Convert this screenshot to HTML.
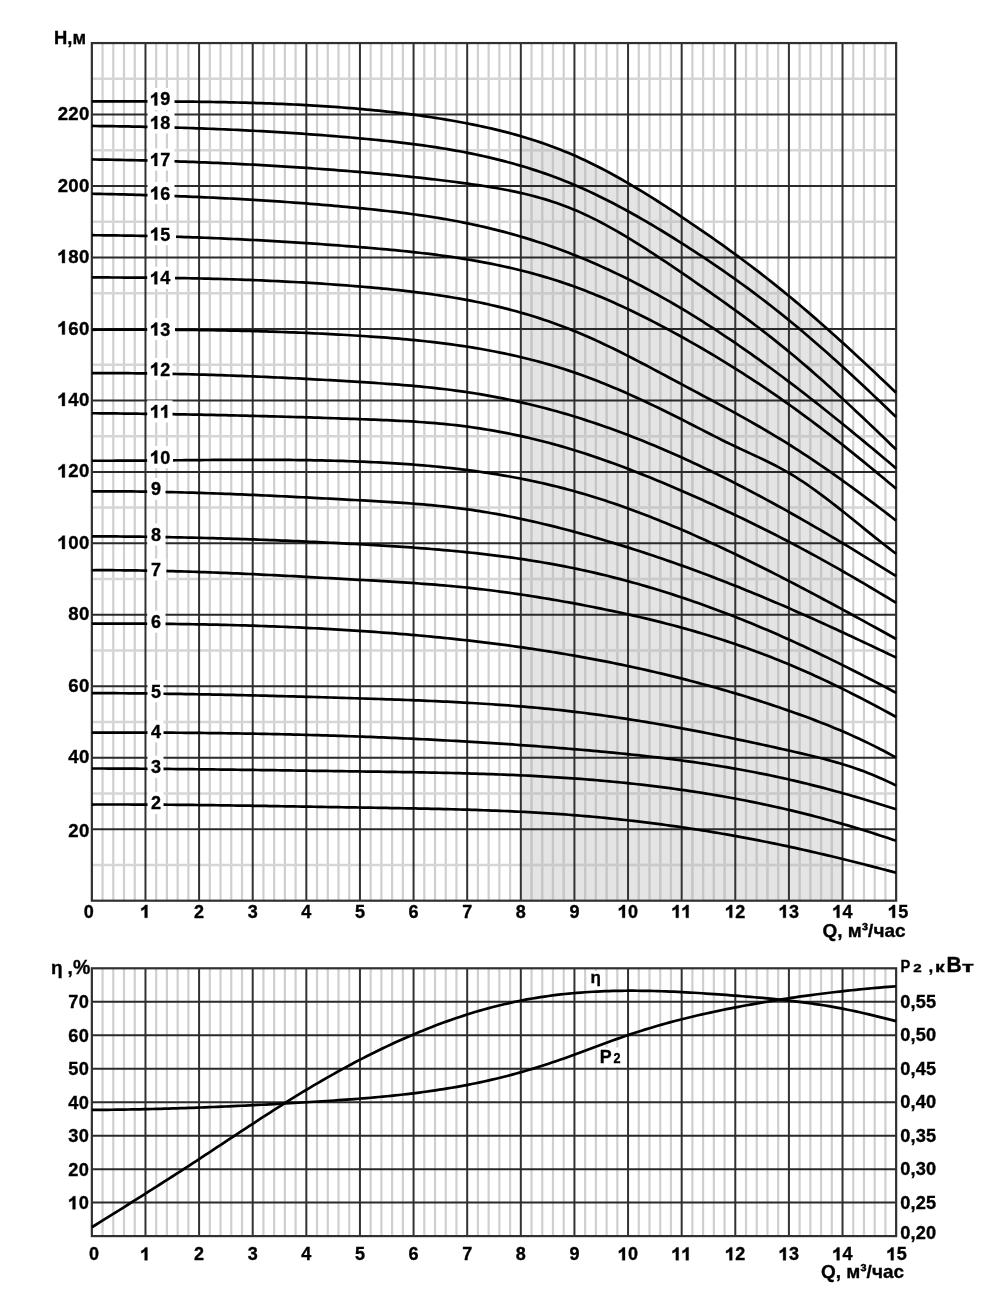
<!DOCTYPE html><html><head><meta charset="utf-8"><style>
html,body{margin:0;padding:0;background:#fff;width:1000px;height:1300px;overflow:hidden}
svg{display:block;filter:grayscale(1) blur(0.35px)}
text{font-family:"Liberation Sans",sans-serif;font-weight:bold;fill:#000;stroke:#000;stroke-width:0.35px}
</style></head><body>
<svg width="1000" height="1300" viewBox="0 0 1000 1300">
<defs><clipPath id="sh"><polygon points="520.81,900.70 520.81,136.18 524.88,137.38 528.95,138.62 533.03,139.90 537.10,141.23 541.17,142.59 545.24,144.00 549.32,145.46 553.39,146.96 557.46,148.51 561.53,150.11 565.61,151.76 569.68,153.45 573.75,155.21 577.82,157.01 581.90,158.87 585.97,160.78 590.04,162.73 594.11,164.74 598.19,166.79 602.26,168.89 606.33,171.03 610.40,173.22 614.48,175.45 618.55,177.71 622.62,180.02 626.69,182.36 630.76,184.74 634.84,187.15 638.91,189.60 642.98,192.08 647.05,194.58 651.13,197.12 655.20,199.68 659.27,202.27 663.34,204.89 667.42,207.52 671.49,210.18 675.56,212.86 679.63,215.56 683.71,218.27 687.78,221.00 691.85,223.75 695.92,226.52 700.00,229.31 704.07,232.12 708.14,234.94 712.21,237.79 716.29,240.66 720.36,243.55 724.43,246.46 728.50,249.39 732.58,252.35 736.65,255.33 740.72,258.34 744.79,261.37 748.86,264.43 752.94,267.51 757.01,270.62 761.08,273.76 765.15,276.92 769.23,280.12 773.30,283.34 777.37,286.59 781.44,289.88 785.52,293.19 789.59,296.54 793.66,299.91 797.73,303.32 801.81,306.76 805.88,310.23 809.95,313.72 814.02,317.25 818.10,320.80 822.17,324.37 826.24,327.97 830.31,331.60 834.39,335.24 838.46,338.91 842.53,342.61 842.53,900.70"/></clipPath></defs>
<polygon points="520.81,900.70 520.81,136.18 524.88,137.38 528.95,138.62 533.03,139.90 537.10,141.23 541.17,142.59 545.24,144.00 549.32,145.46 553.39,146.96 557.46,148.51 561.53,150.11 565.61,151.76 569.68,153.45 573.75,155.21 577.82,157.01 581.90,158.87 585.97,160.78 590.04,162.73 594.11,164.74 598.19,166.79 602.26,168.89 606.33,171.03 610.40,173.22 614.48,175.45 618.55,177.71 622.62,180.02 626.69,182.36 630.76,184.74 634.84,187.15 638.91,189.60 642.98,192.08 647.05,194.58 651.13,197.12 655.20,199.68 659.27,202.27 663.34,204.89 667.42,207.52 671.49,210.18 675.56,212.86 679.63,215.56 683.71,218.27 687.78,221.00 691.85,223.75 695.92,226.52 700.00,229.31 704.07,232.12 708.14,234.94 712.21,237.79 716.29,240.66 720.36,243.55 724.43,246.46 728.50,249.39 732.58,252.35 736.65,255.33 740.72,258.34 744.79,261.37 748.86,264.43 752.94,267.51 757.01,270.62 761.08,273.76 765.15,276.92 769.23,280.12 773.30,283.34 777.37,286.59 781.44,289.88 785.52,293.19 789.59,296.54 793.66,299.91 797.73,303.32 801.81,306.76 805.88,310.23 809.95,313.72 814.02,317.25 818.10,320.80 822.17,324.37 826.24,327.97 830.31,331.60 834.39,335.24 838.46,338.91 842.53,342.61 842.53,900.70" fill="#e4e4e4"/>
<path d="M102.57 43.06V900.70M113.30 43.06V900.70M124.02 43.06V900.70M134.75 43.06V900.70M156.19 43.06V900.70M166.92 43.06V900.70M177.64 43.06V900.70M188.37 43.06V900.70M209.81 43.06V900.70M220.54 43.06V900.70M231.26 43.06V900.70M241.99 43.06V900.70M263.43 43.06V900.70M274.16 43.06V900.70M284.88 43.06V900.70M295.61 43.06V900.70M317.05 43.06V900.70M327.78 43.06V900.70M338.50 43.06V900.70M349.23 43.06V900.70M370.67 43.06V900.70M381.40 43.06V900.70M392.12 43.06V900.70M402.85 43.06V900.70M424.29 43.06V900.70M435.02 43.06V900.70M445.74 43.06V900.70M456.47 43.06V900.70M477.91 43.06V900.70M488.64 43.06V900.70M499.36 43.06V900.70M510.09 43.06V900.70M531.53 43.06V900.70M542.26 43.06V900.70M552.98 43.06V900.70M563.71 43.06V900.70M585.15 43.06V900.70M595.88 43.06V900.70M606.60 43.06V900.70M617.33 43.06V900.70M638.77 43.06V900.70M649.50 43.06V900.70M660.22 43.06V900.70M670.95 43.06V900.70M692.39 43.06V900.70M703.12 43.06V900.70M713.84 43.06V900.70M724.57 43.06V900.70M746.01 43.06V900.70M756.74 43.06V900.70M767.46 43.06V900.70M778.19 43.06V900.70M799.63 43.06V900.70M810.36 43.06V900.70M821.08 43.06V900.70M831.81 43.06V900.70M853.25 43.06V900.70M863.98 43.06V900.70M874.70 43.06V900.70M885.43 43.06V900.70" stroke="#cfcfcf" stroke-width="2.2" fill="none"/>
<path d="M102.57 43.06V900.70M113.30 43.06V900.70M124.02 43.06V900.70M134.75 43.06V900.70M156.19 43.06V900.70M166.92 43.06V900.70M177.64 43.06V900.70M188.37 43.06V900.70M209.81 43.06V900.70M220.54 43.06V900.70M231.26 43.06V900.70M241.99 43.06V900.70M263.43 43.06V900.70M274.16 43.06V900.70M284.88 43.06V900.70M295.61 43.06V900.70M317.05 43.06V900.70M327.78 43.06V900.70M338.50 43.06V900.70M349.23 43.06V900.70M370.67 43.06V900.70M381.40 43.06V900.70M392.12 43.06V900.70M402.85 43.06V900.70M424.29 43.06V900.70M435.02 43.06V900.70M445.74 43.06V900.70M456.47 43.06V900.70M477.91 43.06V900.70M488.64 43.06V900.70M499.36 43.06V900.70M510.09 43.06V900.70M531.53 43.06V900.70M542.26 43.06V900.70M552.98 43.06V900.70M563.71 43.06V900.70M585.15 43.06V900.70M595.88 43.06V900.70M606.60 43.06V900.70M617.33 43.06V900.70M638.77 43.06V900.70M649.50 43.06V900.70M660.22 43.06V900.70M670.95 43.06V900.70M692.39 43.06V900.70M703.12 43.06V900.70M713.84 43.06V900.70M724.57 43.06V900.70M746.01 43.06V900.70M756.74 43.06V900.70M767.46 43.06V900.70M778.19 43.06V900.70M799.63 43.06V900.70M810.36 43.06V900.70M821.08 43.06V900.70M831.81 43.06V900.70M853.25 43.06V900.70M863.98 43.06V900.70M874.70 43.06V900.70M885.43 43.06V900.70" stroke="#c6c6c6" stroke-width="2.2" fill="none" clip-path="url(#sh)"/>
<path d="M91.85 864.97H896.15M91.85 793.50H896.15M91.85 722.03H896.15M91.85 650.56H896.15M91.85 579.09H896.15M91.85 507.62H896.15M91.85 436.15H896.15M91.85 364.68H896.15M91.85 293.21H896.15M91.85 221.74H896.15M91.85 150.26H896.15M91.85 78.80H896.15" stroke="#d6d6d6" stroke-width="2.5" fill="none"/>
<path d="M91.85 864.97H896.15M91.85 793.50H896.15M91.85 722.03H896.15M91.85 650.56H896.15M91.85 579.09H896.15M91.85 507.62H896.15M91.85 436.15H896.15M91.85 364.68H896.15M91.85 293.21H896.15M91.85 221.74H896.15M91.85 150.26H896.15M91.85 78.80H896.15" stroke="#cacaca" stroke-width="2.5" fill="none" clip-path="url(#sh)"/>
<path d="M145.47 43.06V900.70M199.09 43.06V900.70M252.71 43.06V900.70M306.33 43.06V900.70M359.95 43.06V900.70M413.57 43.06V900.70M467.19 43.06V900.70M520.81 43.06V900.70M574.43 43.06V900.70M628.05 43.06V900.70M681.67 43.06V900.70M735.29 43.06V900.70M788.91 43.06V900.70M842.53 43.06V900.70" stroke="#333333" stroke-width="2.0" fill="none"/>
<path d="M91.85 829.23H896.15M91.85 757.76H896.15M91.85 686.29H896.15M91.85 614.82H896.15M91.85 543.35H896.15M91.85 471.88H896.15M91.85 400.41H896.15M91.85 328.94H896.15M91.85 257.47H896.15M91.85 186.00H896.15M91.85 114.53H896.15" stroke="#2a2a2a" stroke-width="2.0" fill="none"/>
<rect x="91.85" y="43.06" width="804.30" height="857.64" fill="none" stroke="#303030" stroke-width="2.2"/>
<polyline points="91.85,101.30 95.89,101.30 99.93,101.30 103.98,101.31 108.02,101.31 112.06,101.32 116.10,101.32 120.14,101.32 124.18,101.33 128.23,101.34 132.27,101.34 136.31,101.35 140.35,101.36 144.39,101.38 148.43,101.39 152.48,101.40 156.52,101.42 160.56,101.44 164.60,101.46 168.64,101.49 172.68,101.52 176.73,101.55 180.77,101.58 184.81,101.62 188.85,101.66 192.89,101.70 196.93,101.75 200.98,101.80 205.02,101.86 209.06,101.92 213.10,101.99 217.14,102.06 221.18,102.13 225.23,102.21 229.27,102.30 233.31,102.39 237.35,102.48 241.39,102.59 245.43,102.69 249.48,102.81 253.52,102.93 257.56,103.05 261.60,103.19 265.64,103.33 269.69,103.47 273.73,103.63 277.77,103.79 281.81,103.96 285.85,104.13 289.89,104.32 293.94,104.51 297.98,104.71 302.02,104.92 306.06,105.14 310.10,105.36 314.14,105.60 318.19,105.84 322.23,106.10 326.27,106.36 330.31,106.63 334.35,106.91 338.39,107.20 342.44,107.50 346.48,107.82 350.52,108.14 354.56,108.47 358.60,108.82 362.64,109.17 366.69,109.54 370.73,109.91 374.77,110.30 378.81,110.71 382.85,111.12 386.89,111.55 390.94,111.99 394.98,112.45 399.02,112.92 403.06,113.40 407.10,113.90 411.14,114.42 415.19,114.95 419.23,115.50 423.27,116.06 427.31,116.65 431.35,117.25 435.40,117.87 439.44,118.50 443.48,119.16 447.52,119.83 451.56,120.53 455.60,121.24 459.65,121.98 463.69,122.73 467.73,123.51 471.77,124.31 475.81,125.13 479.85,125.98 483.90,126.85 487.94,127.74 491.98,128.67 496.02,129.62 500.06,130.61 504.10,131.62 508.15,132.67 512.19,133.75 516.23,134.87 520.27,136.02 524.31,137.21 528.35,138.44 532.40,139.70 536.44,141.01 540.48,142.36 544.52,143.75 548.56,145.19 552.60,146.67 556.65,148.20 560.69,149.77 564.73,151.40 568.77,153.07 572.81,154.80 576.86,156.58 580.90,158.41 584.94,160.29 588.98,162.22 593.02,164.20 597.06,166.22 601.11,168.29 605.15,170.41 609.19,172.56 613.23,174.76 617.27,177.00 621.31,179.28 625.36,181.59 629.40,183.94 633.44,186.32 637.48,188.74 641.52,191.19 645.56,193.66 649.61,196.17 653.65,198.70 657.69,201.26 661.73,203.85 665.77,206.46 669.81,209.09 673.86,211.74 677.90,214.40 681.94,217.09 685.98,219.80 690.02,222.52 694.06,225.26 698.11,228.01 702.15,230.79 706.19,233.59 710.23,236.40 714.27,239.24 718.31,242.09 722.36,244.97 726.40,247.87 730.44,250.80 734.48,253.74 738.52,256.71 742.57,259.71 746.61,262.73 750.65,265.77 754.69,268.84 758.73,271.94 762.77,275.07 766.82,278.22 770.86,281.40 774.90,284.61 778.94,287.85 782.98,291.12 787.02,294.43 791.07,297.76 795.11,301.12 799.15,304.51 803.19,307.94 807.23,311.39 811.27,314.86 815.32,318.37 819.36,321.90 823.40,325.46 827.44,329.04 831.48,332.64 835.52,336.27 839.57,339.92 843.61,343.59 847.65,347.28 851.69,350.99 855.73,354.71 859.77,358.46 863.82,362.22 867.86,366.00 871.90,369.79 875.94,373.60 879.98,377.42 884.02,381.25 888.07,385.09 892.11,388.95 896.15,392.82" fill="none" stroke="#000" stroke-width="2.7" stroke-linejoin="round"/>
<polyline points="91.85,125.96 95.89,126.00 99.93,126.04 103.98,126.09 108.02,126.15 112.06,126.20 116.10,126.26 120.14,126.33 124.18,126.39 128.23,126.46 132.27,126.54 136.31,126.62 140.35,126.70 144.39,126.78 148.43,126.87 152.48,126.97 156.52,127.07 160.56,127.17 164.60,127.27 168.64,127.39 172.68,127.50 176.73,127.62 180.77,127.74 184.81,127.87 188.85,128.00 192.89,128.14 196.93,128.28 200.98,128.43 205.02,128.58 209.06,128.73 213.10,128.89 217.14,129.06 221.18,129.23 225.23,129.40 229.27,129.58 233.31,129.77 237.35,129.96 241.39,130.15 245.43,130.35 249.48,130.56 253.52,130.77 257.56,130.98 261.60,131.20 265.64,131.43 269.69,131.66 273.73,131.90 277.77,132.14 281.81,132.39 285.85,132.65 289.89,132.91 293.94,133.17 297.98,133.44 302.02,133.72 306.06,134.00 310.10,134.29 314.14,134.59 318.19,134.89 322.23,135.20 326.27,135.51 330.31,135.83 334.35,136.16 338.39,136.49 342.44,136.83 346.48,137.17 350.52,137.52 354.56,137.88 358.60,138.25 362.64,138.62 366.69,139.00 370.73,139.38 374.77,139.78 378.81,140.18 382.85,140.60 386.89,141.02 390.94,141.46 394.98,141.90 399.02,142.36 403.06,142.84 407.10,143.33 411.14,143.83 415.19,144.35 419.23,144.88 423.27,145.44 427.31,146.01 431.35,146.59 435.40,147.20 439.44,147.83 443.48,148.47 447.52,149.14 451.56,149.83 455.60,150.55 459.65,151.28 463.69,152.04 467.73,152.83 471.77,153.64 475.81,154.48 479.85,155.34 483.90,156.23 487.94,157.15 491.98,158.10 496.02,159.08 500.06,160.09 504.10,161.13 508.15,162.20 512.19,163.30 516.23,164.44 520.27,165.61 524.31,166.82 528.35,168.06 532.40,169.34 536.44,170.65 540.48,172.00 544.52,173.39 548.56,174.82 552.60,176.29 556.65,177.80 560.69,179.35 564.73,180.94 568.77,182.58 572.81,184.25 576.86,185.97 580.90,187.74 584.94,189.54 588.98,191.39 593.02,193.28 597.06,195.21 601.11,197.18 605.15,199.19 609.19,201.23 613.23,203.31 617.27,205.43 621.31,207.58 625.36,209.76 629.40,211.98 633.44,214.23 637.48,216.51 641.52,218.82 645.56,221.15 649.61,223.52 653.65,225.91 657.69,228.34 661.73,230.78 665.77,233.25 669.81,235.75 673.86,238.27 677.90,240.80 681.94,243.37 685.98,245.95 690.02,248.55 694.06,251.17 698.11,253.82 702.15,256.48 706.19,259.17 710.23,261.89 714.27,264.62 718.31,267.39 722.36,270.17 726.40,272.99 730.44,275.83 734.48,278.69 738.52,281.59 742.57,284.51 746.61,287.46 750.65,290.44 754.69,293.45 758.73,296.48 762.77,299.55 766.82,302.65 770.86,305.78 774.90,308.95 778.94,312.14 782.98,315.37 787.02,318.64 791.07,321.94 795.11,325.27 799.15,328.63 803.19,332.03 807.23,335.46 811.27,338.92 815.32,342.41 819.36,345.93 823.40,349.48 827.44,353.05 831.48,356.65 835.52,360.27 839.57,363.92 843.61,367.60 847.65,371.29 851.69,375.01 855.73,378.75 859.77,382.50 863.82,386.28 867.86,390.08 871.90,393.89 875.94,397.72 879.98,401.56 884.02,405.42 888.07,409.29 892.11,413.18 896.15,417.07" fill="none" stroke="#000" stroke-width="2.7" stroke-linejoin="round"/>
<polyline points="91.85,159.46 95.89,159.51 99.93,159.57 103.98,159.63 108.02,159.69 112.06,159.76 116.10,159.83 120.14,159.91 124.18,159.99 128.23,160.08 132.27,160.16 136.31,160.26 140.35,160.35 144.39,160.45 148.43,160.56 152.48,160.66 156.52,160.78 160.56,160.89 164.60,161.01 168.64,161.14 172.68,161.26 176.73,161.40 180.77,161.53 184.81,161.67 188.85,161.82 192.89,161.97 196.93,162.12 200.98,162.28 205.02,162.44 209.06,162.61 213.10,162.78 217.14,162.95 221.18,163.13 225.23,163.31 229.27,163.50 233.31,163.69 237.35,163.89 241.39,164.09 245.43,164.29 249.48,164.50 253.52,164.72 257.56,164.94 261.60,165.16 265.64,165.39 269.69,165.62 273.73,165.86 277.77,166.10 281.81,166.34 285.85,166.59 289.89,166.85 293.94,167.11 297.98,167.37 302.02,167.64 306.06,167.92 310.10,168.19 314.14,168.48 318.19,168.76 322.23,169.06 326.27,169.35 330.31,169.66 334.35,169.96 338.39,170.28 342.44,170.59 346.48,170.91 350.52,171.24 354.56,171.57 358.60,171.91 362.64,172.25 366.69,172.60 370.73,172.95 374.77,173.31 378.81,173.67 382.85,174.04 386.89,174.41 390.94,174.80 394.98,175.19 399.02,175.58 403.06,175.99 407.10,176.40 411.14,176.82 415.19,177.24 419.23,177.68 423.27,178.12 427.31,178.58 431.35,179.04 435.40,179.51 439.44,179.99 443.48,180.49 447.52,180.99 451.56,181.50 455.60,182.02 459.65,182.56 463.69,183.10 467.73,183.66 471.77,184.22 475.81,184.81 479.85,185.41 483.90,186.02 487.94,186.66 491.98,187.33 496.02,188.02 500.06,188.73 504.10,189.48 508.15,190.26 512.19,191.08 516.23,191.93 520.27,192.83 524.31,193.76 528.35,194.74 532.40,195.77 536.44,196.85 540.48,197.98 544.52,199.16 548.56,200.40 552.60,201.70 556.65,203.06 560.69,204.48 564.73,205.97 568.77,207.52 572.81,209.15 576.86,210.85 580.90,212.62 584.94,214.46 588.98,216.37 593.02,218.34 597.06,220.37 601.11,222.47 605.15,224.62 609.19,226.82 613.23,229.08 617.27,231.39 621.31,233.74 625.36,236.14 629.40,238.58 633.44,241.05 637.48,243.57 641.52,246.12 645.56,248.70 649.61,251.31 653.65,253.95 657.69,256.61 661.73,259.29 665.77,261.99 669.81,264.71 673.86,267.44 677.90,270.18 681.94,272.94 685.98,275.70 690.02,278.46 694.06,281.24 698.11,284.02 702.15,286.82 706.19,289.63 710.23,292.45 714.27,295.29 718.31,298.14 722.36,301.01 726.40,303.90 730.44,306.81 734.48,309.74 738.52,312.68 742.57,315.65 746.61,318.65 750.65,321.67 754.69,324.71 758.73,327.78 762.77,330.88 766.82,334.01 770.86,337.17 774.90,340.36 778.94,343.59 782.98,346.85 787.02,350.14 791.07,353.47 795.11,356.83 799.15,360.23 803.19,363.66 807.23,367.13 811.27,370.63 815.32,374.16 819.36,377.72 823.40,381.30 827.44,384.92 831.48,388.56 835.52,392.23 839.57,395.92 843.61,399.63 847.65,403.37 851.69,407.13 855.73,410.91 859.77,414.71 863.82,418.52 867.86,422.36 871.90,426.21 875.94,430.07 879.98,433.95 884.02,437.84 888.07,441.75 892.11,445.66 896.15,449.59" fill="none" stroke="#000" stroke-width="2.7" stroke-linejoin="round"/>
<polyline points="91.85,193.74 95.89,193.82 99.93,193.90 103.98,193.99 108.02,194.08 112.06,194.17 116.10,194.27 120.14,194.36 124.18,194.47 128.23,194.57 132.27,194.68 136.31,194.79 140.35,194.91 144.39,195.03 148.43,195.15 152.48,195.28 156.52,195.41 160.56,195.55 164.60,195.69 168.64,195.83 172.68,195.98 176.73,196.13 180.77,196.29 184.81,196.45 188.85,196.61 192.89,196.78 196.93,196.95 200.98,197.13 205.02,197.31 209.06,197.50 213.10,197.69 217.14,197.89 221.18,198.09 225.23,198.29 229.27,198.50 233.31,198.72 237.35,198.94 241.39,199.16 245.43,199.39 249.48,199.63 253.52,199.87 257.56,200.11 261.60,200.36 265.64,200.62 269.69,200.88 273.73,201.14 277.77,201.42 281.81,201.69 285.85,201.98 289.89,202.26 293.94,202.56 297.98,202.86 302.02,203.16 306.06,203.47 310.10,203.79 314.14,204.11 318.19,204.44 322.23,204.78 326.27,205.12 330.31,205.46 334.35,205.81 338.39,206.17 342.44,206.54 346.48,206.91 350.52,207.29 354.56,207.67 358.60,208.06 362.64,208.46 366.69,208.86 370.73,209.28 374.77,209.70 378.81,210.13 382.85,210.56 386.89,211.01 390.94,211.48 394.98,211.95 399.02,212.44 403.06,212.94 407.10,213.45 411.14,213.98 415.19,214.52 419.23,215.09 423.27,215.66 427.31,216.26 431.35,216.88 435.40,217.51 439.44,218.16 443.48,218.84 447.52,219.54 451.56,220.26 455.60,221.00 459.65,221.77 463.69,222.56 467.73,223.37 471.77,224.21 475.81,225.08 479.85,225.98 483.90,226.90 487.94,227.85 491.98,228.82 496.02,229.82 500.06,230.85 504.10,231.91 508.15,233.00 512.19,234.11 516.23,235.26 520.27,236.43 524.31,237.63 528.35,238.86 532.40,240.13 536.44,241.42 540.48,242.74 544.52,244.09 548.56,245.47 552.60,246.89 556.65,248.33 560.69,249.81 564.73,251.32 568.77,252.86 572.81,254.43 576.86,256.04 580.90,257.68 584.94,259.35 588.98,261.05 593.02,262.79 597.06,264.56 601.11,266.36 605.15,268.19 609.19,270.05 613.23,271.94 617.27,273.87 621.31,275.82 625.36,277.81 629.40,279.83 633.44,281.88 637.48,283.96 641.52,286.06 645.56,288.20 649.61,290.37 653.65,292.57 657.69,294.80 661.73,297.06 665.77,299.34 669.81,301.66 673.86,304.00 677.90,306.38 681.94,308.78 685.98,311.21 690.02,313.67 694.06,316.16 698.11,318.67 702.15,321.21 706.19,323.78 710.23,326.37 714.27,328.99 718.31,331.64 722.36,334.31 726.40,337.01 730.44,339.74 734.48,342.48 738.52,345.25 742.57,348.05 746.61,350.87 750.65,353.71 754.69,356.58 758.73,359.47 762.77,362.38 766.82,365.31 770.86,368.27 774.90,371.25 778.94,374.25 782.98,377.26 787.02,380.30 791.07,383.36 795.11,386.44 799.15,389.54 803.19,392.66 807.23,395.80 811.27,398.95 815.32,402.12 819.36,405.31 823.40,408.51 827.44,411.73 831.48,414.97 835.52,418.22 839.57,421.48 843.61,424.76 847.65,428.05 851.69,431.36 855.73,434.67 859.77,438.00 863.82,441.34 867.86,444.68 871.90,448.04 875.94,451.41 879.98,454.79 884.02,458.17 888.07,461.57 892.11,464.97 896.15,468.38" fill="none" stroke="#000" stroke-width="2.7" stroke-linejoin="round"/>
<polyline points="91.85,235.20 95.89,235.23 99.93,235.26 103.98,235.30 108.02,235.34 112.06,235.38 116.10,235.43 120.14,235.49 124.18,235.55 128.23,235.62 132.27,235.69 136.31,235.76 140.35,235.84 144.39,235.93 148.43,236.02 152.48,236.11 156.52,236.21 160.56,236.31 164.60,236.42 168.64,236.53 172.68,236.65 176.73,236.77 180.77,236.90 184.81,237.03 188.85,237.17 192.89,237.31 196.93,237.46 200.98,237.61 205.02,237.76 209.06,237.92 213.10,238.09 217.14,238.26 221.18,238.43 225.23,238.61 229.27,238.79 233.31,238.98 237.35,239.17 241.39,239.37 245.43,239.57 249.48,239.78 253.52,239.99 257.56,240.20 261.60,240.42 265.64,240.64 269.69,240.87 273.73,241.11 277.77,241.34 281.81,241.58 285.85,241.83 289.89,242.08 293.94,242.34 297.98,242.60 302.02,242.86 306.06,243.13 310.10,243.40 314.14,243.68 318.19,243.96 322.23,244.25 326.27,244.54 330.31,244.83 334.35,245.13 338.39,245.44 342.44,245.74 346.48,246.06 350.52,246.37 354.56,246.69 358.60,247.02 362.64,247.35 366.69,247.68 370.73,248.02 374.77,248.37 378.81,248.72 382.85,249.08 386.89,249.45 390.94,249.82 394.98,250.21 399.02,250.60 403.06,251.01 407.10,251.43 411.14,251.86 415.19,252.30 419.23,252.75 423.27,253.22 427.31,253.70 431.35,254.20 435.40,254.71 439.44,255.24 443.48,255.79 447.52,256.35 451.56,256.93 455.60,257.53 459.65,258.15 463.69,258.80 467.73,259.46 471.77,260.14 475.81,260.84 479.85,261.57 483.90,262.32 487.94,263.10 491.98,263.90 496.02,264.72 500.06,265.57 504.10,266.45 508.15,267.36 512.19,268.29 516.23,269.25 520.27,270.24 524.31,271.26 528.35,272.31 532.40,273.39 536.44,274.51 540.48,275.65 544.52,276.83 548.56,278.04 552.60,279.29 556.65,280.57 560.69,281.89 564.73,283.24 568.77,284.63 572.81,286.06 576.86,287.53 580.90,289.03 584.94,290.57 588.98,292.15 593.02,293.77 597.06,295.42 601.11,297.10 605.15,298.82 609.19,300.57 613.23,302.35 617.27,304.17 621.31,306.02 625.36,307.90 629.40,309.80 633.44,311.74 637.48,313.71 641.52,315.70 645.56,317.72 649.61,319.77 653.65,321.84 657.69,323.94 661.73,326.07 665.77,328.21 669.81,330.38 673.86,332.58 677.90,334.79 681.94,337.03 685.98,339.29 690.02,341.56 694.06,343.86 698.11,346.18 702.15,348.53 706.19,350.89 710.23,353.28 714.27,355.68 718.31,358.12 722.36,360.57 726.40,363.05 730.44,365.55 734.48,368.07 738.52,370.62 742.57,373.19 746.61,375.79 750.65,378.41 754.69,381.05 758.73,383.72 762.77,386.42 766.82,389.14 770.86,391.88 774.90,394.66 778.94,397.45 782.98,400.28 787.02,403.13 791.07,406.01 795.11,408.91 799.15,411.85 803.19,414.80 807.23,417.79 811.27,420.79 815.32,423.82 819.36,426.88 823.40,429.96 827.44,433.06 831.48,436.18 835.52,439.33 839.57,442.49 843.61,445.68 847.65,448.89 851.69,452.11 855.73,455.36 859.77,458.62 863.82,461.90 867.86,465.20 871.90,468.52 875.94,471.85 879.98,475.20 884.02,478.57 888.07,481.95 892.11,485.34 896.15,488.75" fill="none" stroke="#000" stroke-width="2.7" stroke-linejoin="round"/>
<polyline points="91.85,277.44 95.89,277.44 99.93,277.45 103.98,277.46 108.02,277.47 112.06,277.49 116.10,277.50 120.14,277.52 124.18,277.54 128.23,277.56 132.27,277.58 136.31,277.61 140.35,277.64 144.39,277.67 148.43,277.70 152.48,277.74 156.52,277.78 160.56,277.82 164.60,277.87 168.64,277.92 172.68,277.98 176.73,278.04 180.77,278.10 184.81,278.17 188.85,278.25 192.89,278.32 196.93,278.41 200.98,278.49 205.02,278.58 209.06,278.68 213.10,278.78 217.14,278.89 221.18,279.01 225.23,279.12 229.27,279.25 233.31,279.38 237.35,279.51 241.39,279.65 245.43,279.80 249.48,279.95 253.52,280.11 257.56,280.27 261.60,280.44 265.64,280.61 269.69,280.79 273.73,280.98 277.77,281.17 281.81,281.37 285.85,281.58 289.89,281.79 293.94,282.01 297.98,282.23 302.02,282.46 306.06,282.70 310.10,282.95 314.14,283.20 318.19,283.45 322.23,283.72 326.27,283.99 330.31,284.27 334.35,284.55 338.39,284.85 342.44,285.14 346.48,285.45 350.52,285.76 354.56,286.09 358.60,286.41 362.64,286.75 366.69,287.09 370.73,287.44 374.77,287.80 378.81,288.18 382.85,288.56 386.89,288.95 390.94,289.35 394.98,289.77 399.02,290.20 403.06,290.64 407.10,291.10 411.14,291.57 415.19,292.06 419.23,292.57 423.27,293.09 427.31,293.63 431.35,294.19 435.40,294.77 439.44,295.36 443.48,295.98 447.52,296.62 451.56,297.28 455.60,297.96 459.65,298.66 463.69,299.39 467.73,300.14 471.77,300.92 475.81,301.73 479.85,302.55 483.90,303.41 487.94,304.29 491.98,305.21 496.02,306.15 500.06,307.12 504.10,308.12 508.15,309.15 512.19,310.21 516.23,311.31 520.27,312.44 524.31,313.60 528.35,314.79 532.40,316.02 536.44,317.29 540.48,318.59 544.52,319.93 548.56,321.30 552.60,322.72 556.65,324.17 560.69,325.66 564.73,327.19 568.77,328.76 572.81,330.38 576.86,332.03 580.90,333.73 584.94,335.47 588.98,337.24 593.02,339.05 597.06,340.89 601.11,342.77 605.15,344.68 609.19,346.61 613.23,348.58 617.27,350.56 621.31,352.58 625.36,354.61 629.40,356.67 633.44,358.74 637.48,360.83 641.52,362.94 645.56,365.05 649.61,367.18 653.65,369.32 657.69,371.47 661.73,373.62 665.77,375.78 669.81,377.94 673.86,380.11 677.90,382.27 681.94,384.43 685.98,386.58 690.02,388.74 694.06,390.89 698.11,393.04 702.15,395.19 706.19,397.35 710.23,399.51 714.27,401.68 718.31,403.85 722.36,406.03 726.40,408.23 730.44,410.43 734.48,412.64 738.52,414.87 742.57,417.12 746.61,419.38 750.65,421.66 754.69,423.96 758.73,426.28 762.77,428.62 766.82,430.98 770.86,433.37 774.90,435.79 778.94,438.23 782.98,440.71 787.02,443.21 791.07,445.75 795.11,448.32 799.15,450.91 803.19,453.54 807.23,456.20 811.27,458.89 815.32,461.61 819.36,464.35 823.40,467.12 827.44,469.91 831.48,472.73 835.52,475.58 839.57,478.45 843.61,481.34 847.65,484.25 851.69,487.18 855.73,490.13 859.77,493.11 863.82,496.10 867.86,499.11 871.90,502.13 875.94,505.17 879.98,508.23 884.02,511.30 888.07,514.39 892.11,517.49 896.15,520.60" fill="none" stroke="#000" stroke-width="2.7" stroke-linejoin="round"/>
<polyline points="91.85,329.80 95.89,329.77 99.93,329.75 103.98,329.73 108.02,329.71 112.06,329.69 116.10,329.68 120.14,329.67 124.18,329.66 128.23,329.65 132.27,329.65 136.31,329.65 140.35,329.65 144.39,329.66 148.43,329.66 152.48,329.67 156.52,329.69 160.56,329.70 164.60,329.72 168.64,329.75 172.68,329.77 176.73,329.80 180.77,329.83 184.81,329.87 188.85,329.91 192.89,329.96 196.93,330.00 200.98,330.05 205.02,330.11 209.06,330.17 213.10,330.23 217.14,330.30 221.18,330.37 225.23,330.45 229.27,330.53 233.31,330.61 237.35,330.70 241.39,330.79 245.43,330.89 249.48,330.99 253.52,331.10 257.56,331.21 261.60,331.33 265.64,331.45 269.69,331.57 273.73,331.71 277.77,331.84 281.81,331.98 285.85,332.13 289.89,332.28 293.94,332.44 297.98,332.60 302.02,332.77 306.06,332.95 310.10,333.13 314.14,333.31 318.19,333.50 322.23,333.70 326.27,333.90 330.31,334.11 334.35,334.32 338.39,334.55 342.44,334.77 346.48,335.01 350.52,335.25 354.56,335.49 358.60,335.74 362.64,336.00 366.69,336.27 370.73,336.54 374.77,336.82 378.81,337.12 382.85,337.41 386.89,337.72 390.94,338.04 394.98,338.37 399.02,338.71 403.06,339.07 407.10,339.43 411.14,339.81 415.19,340.20 419.23,340.61 423.27,341.03 427.31,341.47 431.35,341.92 435.40,342.39 439.44,342.87 443.48,343.38 447.52,343.90 451.56,344.44 455.60,345.00 459.65,345.57 463.69,346.17 467.73,346.79 471.77,347.43 475.81,348.09 479.85,348.78 483.90,349.49 487.94,350.22 491.98,350.97 496.02,351.75 500.06,352.56 504.10,353.39 508.15,354.25 512.19,355.13 516.23,356.04 520.27,356.98 524.31,357.95 528.35,358.95 532.40,359.98 536.44,361.03 540.48,362.12 544.52,363.24 548.56,364.39 552.60,365.58 556.65,366.79 560.69,368.04 564.73,369.33 568.77,370.65 572.81,372.00 576.86,373.39 580.90,374.82 584.94,376.28 588.98,377.77 593.02,379.30 597.06,380.86 601.11,382.45 605.15,384.07 609.19,385.72 613.23,387.40 617.27,389.11 621.31,390.84 625.36,392.60 629.40,394.39 633.44,396.20 637.48,398.04 641.52,399.89 645.56,401.78 649.61,403.68 653.65,405.60 657.69,407.54 661.73,409.50 665.77,411.48 669.81,413.48 673.86,415.50 677.90,417.52 681.94,419.57 685.98,421.63 690.02,423.69 694.06,425.77 698.11,427.85 702.15,429.92 706.19,432.00 710.23,434.06 714.27,436.11 718.31,438.15 722.36,440.17 726.40,442.17 730.44,444.14 734.48,446.08 738.52,447.99 742.57,449.88 746.61,451.75 750.65,453.61 754.69,455.48 758.73,457.37 762.77,459.28 766.82,461.22 770.86,463.22 774.90,465.27 778.94,467.38 782.98,469.58 787.02,471.86 791.07,474.23 795.11,476.71 799.15,479.28 803.19,481.94 807.23,484.68 811.27,487.50 815.32,490.38 819.36,493.33 823.40,496.34 827.44,499.40 831.48,502.51 835.52,505.66 839.57,508.84 843.61,512.05 847.65,515.29 851.69,518.54 855.73,521.80 859.77,525.07 863.82,528.34 867.86,531.60 871.90,534.85 875.94,538.09 879.98,541.30 884.02,544.48 888.07,547.62 892.11,550.72 896.15,553.78" fill="none" stroke="#000" stroke-width="2.7" stroke-linejoin="round"/>
<polyline points="91.85,373.06 95.89,373.06 99.93,373.06 103.98,373.07 108.02,373.08 112.06,373.10 116.10,373.12 120.14,373.14 124.18,373.17 128.23,373.21 132.27,373.25 136.31,373.29 140.35,373.34 144.39,373.40 148.43,373.45 152.48,373.51 156.52,373.58 160.56,373.65 164.60,373.73 168.64,373.81 172.68,373.89 176.73,373.98 180.77,374.07 184.81,374.17 188.85,374.27 192.89,374.37 196.93,374.48 200.98,374.59 205.02,374.71 209.06,374.83 213.10,374.96 217.14,375.09 221.18,375.22 225.23,375.36 229.27,375.50 233.31,375.64 237.35,375.79 241.39,375.94 245.43,376.10 249.48,376.26 253.52,376.42 257.56,376.59 261.60,376.76 265.64,376.94 269.69,377.11 273.73,377.30 277.77,377.48 281.81,377.67 285.85,377.86 289.89,378.06 293.94,378.26 297.98,378.46 302.02,378.67 306.06,378.88 310.10,379.09 314.14,379.31 318.19,379.53 322.23,379.75 326.27,379.98 330.31,380.21 334.35,380.44 338.39,380.68 342.44,380.92 346.48,381.16 350.52,381.41 354.56,381.66 358.60,381.91 362.64,382.17 366.69,382.43 370.73,382.69 374.77,382.96 378.81,383.23 382.85,383.51 386.89,383.80 390.94,384.09 394.98,384.40 399.02,384.71 403.06,385.04 407.10,385.38 411.14,385.72 415.19,386.08 419.23,386.46 423.27,386.85 427.31,387.25 431.35,387.67 435.40,388.10 439.44,388.56 443.48,389.03 447.52,389.52 451.56,390.02 455.60,390.55 459.65,391.10 463.69,391.68 467.73,392.27 471.77,392.89 475.81,393.53 479.85,394.19 483.90,394.88 487.94,395.59 491.98,396.33 496.02,397.08 500.06,397.87 504.10,398.67 508.15,399.50 512.19,400.35 516.23,401.23 520.27,402.13 524.31,403.06 528.35,404.01 532.40,404.98 536.44,405.98 540.48,407.00 544.52,408.04 548.56,409.11 552.60,410.21 556.65,411.32 560.69,412.47 564.73,413.64 568.77,414.83 572.81,416.04 576.86,417.29 580.90,418.55 584.94,419.84 588.98,421.16 593.02,422.50 597.06,423.86 601.11,425.24 605.15,426.65 609.19,428.09 613.23,429.54 617.27,431.02 621.31,432.52 625.36,434.05 629.40,435.59 633.44,437.16 637.48,438.75 641.52,440.36 645.56,441.99 649.61,443.64 653.65,445.32 657.69,447.01 661.73,448.73 665.77,450.46 669.81,452.22 673.86,453.99 677.90,455.79 681.94,457.60 685.98,459.44 690.02,461.29 694.06,463.16 698.11,465.05 702.15,466.96 706.19,468.89 710.23,470.83 714.27,472.80 718.31,474.78 722.36,476.77 726.40,478.79 730.44,480.82 734.48,482.87 738.52,484.93 742.57,487.02 746.61,489.11 750.65,491.23 754.69,493.36 758.73,495.50 762.77,497.66 766.82,499.84 770.86,502.03 774.90,504.24 778.94,506.46 782.98,508.69 787.02,510.94 791.07,513.20 795.11,515.48 799.15,517.76 803.19,520.07 807.23,522.38 811.27,524.71 815.32,527.05 819.36,529.41 823.40,531.77 827.44,534.15 831.48,536.54 835.52,538.94 839.57,541.35 843.61,543.78 847.65,546.21 851.69,548.66 855.73,551.12 859.77,553.58 863.82,556.06 867.86,558.55 871.90,561.04 875.94,563.55 879.98,566.06 884.02,568.59 888.07,571.12 892.11,573.67 896.15,576.22" fill="none" stroke="#000" stroke-width="2.7" stroke-linejoin="round"/>
<polyline points="91.85,413.24 95.89,413.27 99.93,413.31 103.98,413.34 108.02,413.38 112.06,413.42 116.10,413.46 120.14,413.50 124.18,413.55 128.23,413.59 132.27,413.64 136.31,413.69 140.35,413.74 144.39,413.79 148.43,413.85 152.48,413.90 156.52,413.96 160.56,414.02 164.60,414.08 168.64,414.15 172.68,414.21 176.73,414.28 180.77,414.35 184.81,414.42 188.85,414.49 192.89,414.57 196.93,414.64 200.98,414.72 205.02,414.80 209.06,414.88 213.10,414.96 217.14,415.05 221.18,415.13 225.23,415.22 229.27,415.31 233.31,415.40 237.35,415.50 241.39,415.59 245.43,415.69 249.48,415.79 253.52,415.89 257.56,415.99 261.60,416.09 265.64,416.20 269.69,416.30 273.73,416.41 277.77,416.52 281.81,416.64 285.85,416.75 289.89,416.87 293.94,416.98 297.98,417.10 302.02,417.22 306.06,417.35 310.10,417.47 314.14,417.60 318.19,417.72 322.23,417.85 326.27,417.99 330.31,418.12 334.35,418.25 338.39,418.39 342.44,418.53 346.48,418.67 350.52,418.81 354.56,418.95 358.60,419.10 362.64,419.24 366.69,419.39 370.73,419.55 374.77,419.70 378.81,419.86 382.85,420.03 386.89,420.21 390.94,420.39 394.98,420.58 399.02,420.79 403.06,421.00 407.10,421.22 411.14,421.46 415.19,421.71 419.23,421.98 423.27,422.27 427.31,422.56 431.35,422.88 435.40,423.22 439.44,423.57 443.48,423.95 447.52,424.35 451.56,424.77 455.60,425.21 459.65,425.68 463.69,426.18 467.73,426.70 471.77,427.25 475.81,427.82 479.85,428.42 483.90,429.05 487.94,429.71 491.98,430.39 496.02,431.11 500.06,431.84 504.10,432.61 508.15,433.40 512.19,434.22 516.23,435.07 520.27,435.94 524.31,436.84 528.35,437.77 532.40,438.72 536.44,439.70 540.48,440.71 544.52,441.74 548.56,442.80 552.60,443.89 556.65,445.01 560.69,446.15 564.73,447.32 568.77,448.51 572.81,449.73 576.86,450.98 580.90,452.25 584.94,453.55 588.98,454.88 593.02,456.23 597.06,457.60 601.11,459.00 605.15,460.42 609.19,461.86 613.23,463.32 617.27,464.81 621.31,466.31 625.36,467.84 629.40,469.38 633.44,470.95 637.48,472.53 641.52,474.13 645.56,475.74 649.61,477.37 653.65,479.02 657.69,480.69 661.73,482.36 665.77,484.06 669.81,485.76 673.86,487.48 677.90,489.21 681.94,490.96 685.98,492.71 690.02,494.48 694.06,496.25 698.11,498.04 702.15,499.85 706.19,501.66 710.23,503.49 714.27,505.32 718.31,507.18 722.36,509.04 726.40,510.92 730.44,512.81 734.48,514.71 738.52,516.63 742.57,518.56 746.61,520.51 750.65,522.47 754.69,524.44 758.73,526.43 762.77,528.44 766.82,530.46 770.86,532.49 774.90,534.54 778.94,536.60 782.98,538.68 787.02,540.78 791.07,542.89 795.11,545.02 799.15,547.17 803.19,549.32 807.23,551.50 811.27,553.69 815.32,555.89 819.36,558.11 823.40,560.35 827.44,562.60 831.48,564.86 835.52,567.14 839.57,569.43 843.61,571.73 847.65,574.05 851.69,576.38 855.73,578.73 859.77,581.08 863.82,583.45 867.86,585.83 871.90,588.23 875.94,590.63 879.98,593.05 884.02,595.48 888.07,597.92 892.11,600.37 896.15,602.83" fill="none" stroke="#000" stroke-width="2.7" stroke-linejoin="round"/>
<polyline points="91.85,460.77 95.89,460.77 99.93,460.77 103.98,460.76 108.02,460.75 112.06,460.74 116.10,460.72 120.14,460.71 124.18,460.69 128.23,460.66 132.27,460.64 136.31,460.61 140.35,460.58 144.39,460.55 148.43,460.52 152.48,460.48 156.52,460.45 160.56,460.41 164.60,460.38 168.64,460.34 172.68,460.30 176.73,460.27 180.77,460.23 184.81,460.19 188.85,460.16 192.89,460.12 196.93,460.09 200.98,460.05 205.02,460.02 209.06,459.99 213.10,459.96 217.14,459.93 221.18,459.90 225.23,459.88 229.27,459.86 233.31,459.84 237.35,459.82 241.39,459.81 245.43,459.80 249.48,459.79 253.52,459.79 257.56,459.79 261.60,459.79 265.64,459.80 269.69,459.81 273.73,459.83 277.77,459.85 281.81,459.88 285.85,459.91 289.89,459.94 293.94,459.98 297.98,460.03 302.02,460.08 306.06,460.14 310.10,460.21 314.14,460.28 318.19,460.36 322.23,460.44 326.27,460.53 330.31,460.63 334.35,460.74 338.39,460.85 342.44,460.97 346.48,461.10 350.52,461.24 354.56,461.38 358.60,461.54 362.64,461.70 366.69,461.87 370.73,462.05 374.77,462.24 378.81,462.44 382.85,462.65 386.89,462.87 390.94,463.11 394.98,463.35 399.02,463.60 403.06,463.87 407.10,464.15 411.14,464.44 415.19,464.75 419.23,465.07 423.27,465.40 427.31,465.75 431.35,466.11 435.40,466.49 439.44,466.88 443.48,467.29 447.52,467.72 451.56,468.16 455.60,468.62 459.65,469.09 463.69,469.58 467.73,470.09 471.77,470.62 475.81,471.17 479.85,471.73 483.90,472.32 487.94,472.93 491.98,473.55 496.02,474.20 500.06,474.86 504.10,475.55 508.15,476.26 512.19,476.99 516.23,477.74 520.27,478.51 524.31,479.31 528.35,480.13 532.40,480.98 536.44,481.85 540.48,482.74 544.52,483.66 548.56,484.60 552.60,485.57 556.65,486.56 560.69,487.58 564.73,488.63 568.77,489.70 572.81,490.80 576.86,491.93 580.90,493.08 584.94,494.26 588.98,495.47 593.02,496.71 597.06,497.97 601.11,499.26 605.15,500.57 609.19,501.91 613.23,503.27 617.27,504.65 621.31,506.06 625.36,507.50 629.40,508.95 633.44,510.43 637.48,511.94 641.52,513.46 645.56,515.01 649.61,516.57 653.65,518.16 657.69,519.77 661.73,521.40 665.77,523.05 669.81,524.72 673.86,526.41 677.90,528.11 681.94,529.84 685.98,531.58 690.02,533.35 694.06,535.13 698.11,536.92 702.15,538.74 706.19,540.57 710.23,542.41 714.27,544.27 718.31,546.15 722.36,548.04 726.40,549.95 730.44,551.87 734.48,553.81 738.52,555.76 742.57,557.72 746.61,559.69 750.65,561.68 754.69,563.68 758.73,565.69 762.77,567.71 766.82,569.75 770.86,571.79 774.90,573.85 778.94,575.92 782.98,577.99 787.02,580.08 791.07,582.17 795.11,584.27 799.15,586.38 803.19,588.50 807.23,590.63 811.27,592.76 815.32,594.91 819.36,597.06 823.40,599.21 827.44,601.38 831.48,603.55 835.52,605.72 839.57,607.91 843.61,610.10 847.65,612.29 851.69,614.49 855.73,616.70 859.77,618.91 863.82,621.12 867.86,623.34 871.90,625.57 875.94,627.79 879.98,630.03 884.02,632.26 888.07,634.50 892.11,636.74 896.15,638.99" fill="none" stroke="#000" stroke-width="2.7" stroke-linejoin="round"/>
<polyline points="91.85,491.32 95.89,491.30 99.93,491.29 103.98,491.29 108.02,491.30 112.06,491.31 116.10,491.33 120.14,491.35 124.18,491.38 128.23,491.42 132.27,491.46 136.31,491.51 140.35,491.56 144.39,491.62 148.43,491.68 152.48,491.75 156.52,491.83 160.56,491.91 164.60,491.99 168.64,492.08 172.68,492.17 176.73,492.27 180.77,492.38 184.81,492.49 188.85,492.60 192.89,492.72 196.93,492.84 200.98,492.97 205.02,493.10 209.06,493.23 213.10,493.37 217.14,493.51 221.18,493.66 225.23,493.81 229.27,493.96 233.31,494.12 237.35,494.28 241.39,494.44 245.43,494.61 249.48,494.78 253.52,494.95 257.56,495.13 261.60,495.31 265.64,495.49 269.69,495.67 273.73,495.86 277.77,496.05 281.81,496.24 285.85,496.44 289.89,496.64 293.94,496.84 297.98,497.04 302.02,497.24 306.06,497.44 310.10,497.65 314.14,497.86 318.19,498.07 322.23,498.28 326.27,498.50 330.31,498.71 334.35,498.93 338.39,499.14 342.44,499.36 346.48,499.58 350.52,499.80 354.56,500.02 358.60,500.24 362.64,500.47 366.69,500.69 370.73,500.92 374.77,501.15 378.81,501.38 382.85,501.62 386.89,501.86 390.94,502.11 394.98,502.37 399.02,502.63 403.06,502.91 407.10,503.20 411.14,503.50 415.19,503.81 419.23,504.13 423.27,504.47 427.31,504.82 431.35,505.19 435.40,505.57 439.44,505.98 443.48,506.40 447.52,506.84 451.56,507.30 455.60,507.79 459.65,508.29 463.69,508.82 467.73,509.38 471.77,509.96 475.81,510.56 479.85,511.19 483.90,511.84 487.94,512.51 491.98,513.21 496.02,513.93 500.06,514.67 504.10,515.44 508.15,516.22 512.19,517.03 516.23,517.86 520.27,518.71 524.31,519.57 528.35,520.46 532.40,521.37 536.44,522.29 540.48,523.23 544.52,524.19 548.56,525.17 552.60,526.17 556.65,527.18 560.69,528.21 564.73,529.25 568.77,530.31 572.81,531.38 576.86,532.47 580.90,533.58 584.94,534.69 588.98,535.82 593.02,536.97 597.06,538.13 601.11,539.31 605.15,540.49 609.19,541.70 613.23,542.91 617.27,544.14 621.31,545.38 625.36,546.64 629.40,547.91 633.44,549.20 637.48,550.50 641.52,551.81 645.56,553.13 649.61,554.47 653.65,555.82 657.69,557.18 661.73,558.56 665.77,559.95 669.81,561.35 673.86,562.77 677.90,564.20 681.94,565.64 685.98,567.09 690.02,568.56 694.06,570.04 698.11,571.53 702.15,573.04 706.19,574.55 710.23,576.08 714.27,577.62 718.31,579.17 722.36,580.74 726.40,582.32 730.44,583.91 734.48,585.51 738.52,587.12 742.57,588.74 746.61,590.38 750.65,592.03 754.69,593.68 758.73,595.35 762.77,597.04 766.82,598.73 770.86,600.43 774.90,602.15 778.94,603.87 782.98,605.61 787.02,607.36 791.07,609.12 795.11,610.89 799.15,612.67 803.19,614.46 807.23,616.26 811.27,618.07 815.32,619.89 819.36,621.71 823.40,623.55 827.44,625.39 831.48,627.24 835.52,629.09 839.57,630.95 843.61,632.82 847.65,634.70 851.69,636.58 855.73,638.46 859.77,640.35 863.82,642.25 867.86,644.15 871.90,646.05 875.94,647.95 879.98,649.86 884.02,651.77 888.07,653.68 892.11,655.60 896.15,657.52" fill="none" stroke="#000" stroke-width="2.7" stroke-linejoin="round"/>
<polyline points="91.85,536.34 95.89,536.35 99.93,536.37 103.98,536.39 108.02,536.41 112.06,536.44 116.10,536.47 120.14,536.50 124.18,536.54 128.23,536.58 132.27,536.62 136.31,536.67 140.35,536.72 144.39,536.77 148.43,536.83 152.48,536.89 156.52,536.96 160.56,537.02 164.60,537.09 168.64,537.17 172.68,537.24 176.73,537.32 180.77,537.41 184.81,537.49 188.85,537.58 192.89,537.68 196.93,537.77 200.98,537.87 205.02,537.98 209.06,538.08 213.10,538.19 217.14,538.30 221.18,538.42 225.23,538.54 229.27,538.66 233.31,538.79 237.35,538.91 241.39,539.05 245.43,539.18 249.48,539.32 253.52,539.46 257.56,539.60 261.60,539.75 265.64,539.90 269.69,540.06 273.73,540.21 277.77,540.37 281.81,540.54 285.85,540.70 289.89,540.87 293.94,541.04 297.98,541.22 302.02,541.40 306.06,541.58 310.10,541.76 314.14,541.95 318.19,542.14 322.23,542.34 326.27,542.53 330.31,542.73 334.35,542.94 338.39,543.14 342.44,543.35 346.48,543.56 350.52,543.78 354.56,544.00 358.60,544.22 362.64,544.44 366.69,544.67 370.73,544.90 374.77,545.14 378.81,545.37 382.85,545.62 386.89,545.87 390.94,546.12 394.98,546.38 399.02,546.64 403.06,546.91 407.10,547.19 411.14,547.47 415.19,547.76 419.23,548.06 423.27,548.37 427.31,548.68 431.35,549.01 435.40,549.34 439.44,549.68 443.48,550.03 447.52,550.38 451.56,550.75 455.60,551.13 459.65,551.52 463.69,551.92 467.73,552.34 471.77,552.76 475.81,553.19 479.85,553.64 483.90,554.10 487.94,554.58 491.98,555.06 496.02,555.56 500.06,556.07 504.10,556.60 508.15,557.14 512.19,557.70 516.23,558.27 520.27,558.86 524.31,559.46 528.35,560.08 532.40,560.72 536.44,561.37 540.48,562.04 544.52,562.73 548.56,563.43 552.60,564.16 556.65,564.90 560.69,565.66 564.73,566.44 568.77,567.23 572.81,568.05 576.86,568.89 580.90,569.75 584.94,570.62 588.98,571.52 593.02,572.44 597.06,573.37 601.11,574.33 605.15,575.31 609.19,576.30 613.23,577.32 617.27,578.35 621.31,579.41 625.36,580.48 629.40,581.58 633.44,582.69 637.48,583.82 641.52,584.97 645.56,586.14 649.61,587.33 653.65,588.54 657.69,589.77 661.73,591.01 665.77,592.28 669.81,593.56 673.86,594.87 677.90,596.19 681.94,597.53 685.98,598.88 690.02,600.26 694.06,601.66 698.11,603.07 702.15,604.50 706.19,605.95 710.23,607.42 714.27,608.91 718.31,610.41 722.36,611.93 726.40,613.47 730.44,615.03 734.48,616.61 738.52,618.20 742.57,619.81 746.61,621.44 750.65,623.09 754.69,624.76 758.73,626.44 762.77,628.14 766.82,629.86 770.86,631.59 774.90,633.34 778.94,635.11 782.98,636.90 787.02,638.70 791.07,640.52 795.11,642.36 799.15,644.21 803.19,646.08 807.23,647.97 811.27,649.87 815.32,651.79 819.36,653.72 823.40,655.66 827.44,657.62 831.48,659.60 835.52,661.59 839.57,663.59 843.61,665.61 847.65,667.63 851.69,669.68 855.73,671.73 859.77,673.79 863.82,675.87 867.86,677.96 871.90,680.06 875.94,682.17 879.98,684.29 884.02,686.42 888.07,688.56 892.11,690.71 896.15,692.87" fill="none" stroke="#000" stroke-width="2.7" stroke-linejoin="round"/>
<polyline points="91.85,570.23 95.89,570.21 99.93,570.20 103.98,570.20 108.02,570.21 112.06,570.22 116.10,570.24 120.14,570.26 124.18,570.29 128.23,570.33 132.27,570.38 136.31,570.43 140.35,570.49 144.39,570.55 148.43,570.62 152.48,570.70 156.52,570.78 160.56,570.87 164.60,570.96 168.64,571.06 172.68,571.17 176.73,571.28 180.77,571.39 184.81,571.51 188.85,571.63 192.89,571.76 196.93,571.90 200.98,572.04 205.02,572.18 209.06,572.33 213.10,572.48 217.14,572.63 221.18,572.79 225.23,572.96 229.27,573.12 233.31,573.30 237.35,573.47 241.39,573.65 245.43,573.83 249.48,574.01 253.52,574.20 257.56,574.39 261.60,574.59 265.64,574.78 269.69,574.98 273.73,575.18 277.77,575.39 281.81,575.59 285.85,575.80 289.89,576.01 293.94,576.22 297.98,576.44 302.02,576.65 306.06,576.87 310.10,577.09 314.14,577.31 318.19,577.53 322.23,577.75 326.27,577.98 330.31,578.20 334.35,578.43 338.39,578.65 342.44,578.88 346.48,579.11 350.52,579.33 354.56,579.56 358.60,579.79 362.64,580.02 366.69,580.25 370.73,580.47 374.77,580.71 378.81,580.94 382.85,581.17 386.89,581.41 390.94,581.65 394.98,581.90 399.02,582.15 403.06,582.41 407.10,582.67 411.14,582.94 415.19,583.22 419.23,583.50 423.27,583.79 427.31,584.09 431.35,584.40 435.40,584.72 439.44,585.05 443.48,585.39 447.52,585.74 451.56,586.11 455.60,586.49 459.65,586.88 463.69,587.28 467.73,587.70 471.77,588.13 475.81,588.58 479.85,589.04 483.90,589.52 487.94,590.01 491.98,590.51 496.02,591.03 500.06,591.56 504.10,592.10 508.15,592.66 512.19,593.23 516.23,593.81 520.27,594.41 524.31,595.02 528.35,595.63 532.40,596.27 536.44,596.91 540.48,597.56 544.52,598.23 548.56,598.91 552.60,599.59 556.65,600.29 560.69,601.00 564.73,601.72 568.77,602.45 572.81,603.19 576.86,603.94 580.90,604.70 584.94,605.46 588.98,606.24 593.02,607.03 597.06,607.83 601.11,608.65 605.15,609.47 609.19,610.31 613.23,611.16 617.27,612.02 621.31,612.89 625.36,613.78 629.40,614.68 633.44,615.59 637.48,616.52 641.52,617.46 645.56,618.42 649.61,619.39 653.65,620.38 657.69,621.38 661.73,622.40 665.77,623.44 669.81,624.49 673.86,625.56 677.90,626.65 681.94,627.75 685.98,628.87 690.02,630.01 694.06,631.17 698.11,632.34 702.15,633.54 706.19,634.75 710.23,635.99 714.27,637.24 718.31,638.52 722.36,639.81 726.40,641.13 730.44,642.46 734.48,643.82 738.52,645.20 742.57,646.60 746.61,648.03 750.65,649.47 754.69,650.94 758.73,652.44 762.77,653.95 766.82,655.49 770.86,657.06 774.90,658.65 778.94,660.26 782.98,661.90 787.02,663.56 791.07,665.25 795.11,666.97 799.15,668.71 803.19,670.47 807.23,672.26 811.27,674.08 815.32,675.91 819.36,677.77 823.40,679.65 827.44,681.56 831.48,683.49 835.52,685.43 839.57,687.40 843.61,689.39 847.65,691.40 851.69,693.43 855.73,695.48 859.77,697.55 863.82,699.64 867.86,701.74 871.90,703.86 875.94,706.00 879.98,708.16 884.02,710.33 888.07,712.52 892.11,714.73 896.15,716.95" fill="none" stroke="#000" stroke-width="2.7" stroke-linejoin="round"/>
<polyline points="91.85,623.68 95.89,623.67 99.93,623.65 103.98,623.65 108.02,623.64 112.06,623.63 116.10,623.63 120.14,623.64 124.18,623.64 128.23,623.65 132.27,623.66 136.31,623.68 140.35,623.70 144.39,623.72 148.43,623.74 152.48,623.77 156.52,623.80 160.56,623.84 164.60,623.88 168.64,623.92 172.68,623.96 176.73,624.01 180.77,624.07 184.81,624.13 188.85,624.19 192.89,624.25 196.93,624.32 200.98,624.39 205.02,624.47 209.06,624.55 213.10,624.64 217.14,624.72 221.18,624.82 225.23,624.92 229.27,625.02 233.31,625.12 237.35,625.23 241.39,625.35 245.43,625.47 249.48,625.59 253.52,625.72 257.56,625.85 261.60,625.99 265.64,626.13 269.69,626.28 273.73,626.43 277.77,626.59 281.81,626.75 285.85,626.92 289.89,627.09 293.94,627.27 297.98,627.45 302.02,627.64 306.06,627.83 310.10,628.03 314.14,628.23 318.19,628.44 322.23,628.65 326.27,628.87 330.31,629.09 334.35,629.32 338.39,629.56 342.44,629.80 346.48,630.05 350.52,630.30 354.56,630.56 358.60,630.82 362.64,631.09 366.69,631.37 370.73,631.65 374.77,631.94 378.81,632.23 382.85,632.53 386.89,632.84 390.94,633.15 394.98,633.47 399.02,633.80 403.06,634.13 407.10,634.47 411.14,634.81 415.19,635.17 419.23,635.53 423.27,635.90 427.31,636.27 431.35,636.66 435.40,637.05 439.44,637.44 443.48,637.85 447.52,638.26 451.56,638.68 455.60,639.11 459.65,639.55 463.69,639.99 467.73,640.45 471.77,640.91 475.81,641.38 479.85,641.86 483.90,642.34 487.94,642.84 491.98,643.34 496.02,643.86 500.06,644.38 504.10,644.91 508.15,645.45 512.19,646.00 516.23,646.56 520.27,647.13 524.31,647.71 528.35,648.29 532.40,648.89 536.44,649.50 540.48,650.11 544.52,650.74 548.56,651.38 552.60,652.02 556.65,652.68 560.69,653.35 564.73,654.03 568.77,654.71 572.81,655.41 576.86,656.12 580.90,656.84 584.94,657.57 588.98,658.32 593.02,659.07 597.06,659.83 601.11,660.61 605.15,661.40 609.19,662.19 613.23,663.00 617.27,663.83 621.31,664.66 625.36,665.50 629.40,666.36 633.44,667.23 637.48,668.11 641.52,669.00 645.56,669.91 649.61,670.83 653.65,671.76 657.69,672.70 661.73,673.66 665.77,674.63 669.81,675.61 673.86,676.60 677.90,677.61 681.94,678.63 685.98,679.66 690.02,680.71 694.06,681.77 698.11,682.85 702.15,683.93 706.19,685.04 710.23,686.15 714.27,687.28 718.31,688.42 722.36,689.58 726.40,690.75 730.44,691.94 734.48,693.14 738.52,694.35 742.57,695.58 746.61,696.83 750.65,698.09 754.69,699.36 758.73,700.65 762.77,701.95 766.82,703.27 770.86,704.61 774.90,705.96 778.94,707.32 782.98,708.70 787.02,710.10 791.07,711.51 795.11,712.94 799.15,714.39 803.19,715.85 807.23,717.34 811.27,718.85 815.32,720.38 819.36,721.93 823.40,723.51 827.44,725.11 831.48,726.75 835.52,728.41 839.57,730.10 843.61,731.82 847.65,733.58 851.69,735.37 855.73,737.19 859.77,739.05 863.82,740.95 867.86,742.89 871.90,744.87 875.94,746.89 879.98,748.95 884.02,751.05 888.07,753.21 892.11,755.40 896.15,757.65" fill="none" stroke="#000" stroke-width="2.7" stroke-linejoin="round"/>
<polyline points="91.85,693.07 95.89,693.09 99.93,693.11 103.98,693.13 108.02,693.15 112.06,693.18 116.10,693.21 120.14,693.24 124.18,693.27 128.23,693.31 132.27,693.35 136.31,693.39 140.35,693.43 144.39,693.47 148.43,693.52 152.48,693.57 156.52,693.62 160.56,693.67 164.60,693.73 168.64,693.79 172.68,693.85 176.73,693.91 180.77,693.97 184.81,694.04 188.85,694.10 192.89,694.17 196.93,694.24 200.98,694.32 205.02,694.39 209.06,694.47 213.10,694.55 217.14,694.63 221.18,694.71 225.23,694.79 229.27,694.88 233.31,694.97 237.35,695.06 241.39,695.15 245.43,695.24 249.48,695.33 253.52,695.43 257.56,695.52 261.60,695.62 265.64,695.72 269.69,695.82 273.73,695.92 277.77,696.03 281.81,696.13 285.85,696.24 289.89,696.35 293.94,696.46 297.98,696.57 302.02,696.68 306.06,696.79 310.10,696.90 314.14,697.02 318.19,697.14 322.23,697.25 326.27,697.37 330.31,697.49 334.35,697.61 338.39,697.73 342.44,697.86 346.48,697.98 350.52,698.11 354.56,698.23 358.60,698.36 362.64,698.48 366.69,698.61 370.73,698.74 374.77,698.87 378.81,699.01 382.85,699.14 386.89,699.28 390.94,699.42 394.98,699.56 399.02,699.70 403.06,699.85 407.10,700.00 411.14,700.15 415.19,700.31 419.23,700.47 423.27,700.64 427.31,700.80 431.35,700.98 435.40,701.16 439.44,701.34 443.48,701.53 447.52,701.72 451.56,701.92 455.60,702.13 459.65,702.34 463.69,702.56 467.73,702.78 471.77,703.01 475.81,703.25 479.85,703.49 483.90,703.74 487.94,704.00 491.98,704.27 496.02,704.54 500.06,704.83 504.10,705.12 508.15,705.42 512.19,705.73 516.23,706.04 520.27,706.37 524.31,706.71 528.35,707.05 532.40,707.41 536.44,707.78 540.48,708.15 544.52,708.54 548.56,708.94 552.60,709.35 556.65,709.77 560.69,710.20 564.73,710.64 568.77,711.09 572.81,711.56 576.86,712.04 580.90,712.53 584.94,713.03 588.98,713.55 593.02,714.08 597.06,714.62 601.11,715.17 605.15,715.73 609.19,716.30 613.23,716.88 617.27,717.48 621.31,718.08 625.36,718.70 629.40,719.33 633.44,719.96 637.48,720.61 641.52,721.26 645.56,721.93 649.61,722.61 653.65,723.29 657.69,723.98 661.73,724.69 665.77,725.40 669.81,726.12 673.86,726.85 677.90,727.59 681.94,728.33 685.98,729.09 690.02,729.85 694.06,730.62 698.11,731.40 702.15,732.18 706.19,732.98 710.23,733.78 714.27,734.58 718.31,735.40 722.36,736.22 726.40,737.05 730.44,737.88 734.48,738.72 738.52,739.56 742.57,740.42 746.61,741.27 750.65,742.14 754.69,743.01 758.73,743.88 762.77,744.76 766.82,745.64 770.86,746.53 774.90,747.42 778.94,748.32 782.98,749.22 787.02,750.13 791.07,751.04 795.11,751.96 799.15,752.88 803.19,753.82 807.23,754.77 811.27,755.74 815.32,756.73 819.36,757.74 823.40,758.78 827.44,759.85 831.48,760.96 835.52,762.10 839.57,763.28 843.61,764.50 847.65,765.77 851.69,767.08 855.73,768.45 859.77,769.87 863.82,771.35 867.86,772.89 871.90,774.50 875.94,776.17 879.98,777.91 884.02,779.72 888.07,781.61 892.11,783.58 896.15,785.63" fill="none" stroke="#000" stroke-width="2.7" stroke-linejoin="round"/>
<polyline points="91.85,732.59 95.89,732.58 99.93,732.57 103.98,732.56 108.02,732.55 112.06,732.55 116.10,732.55 120.14,732.55 124.18,732.55 128.23,732.55 132.27,732.56 136.31,732.56 140.35,732.57 144.39,732.58 148.43,732.60 152.48,732.61 156.52,732.63 160.56,732.65 164.60,732.67 168.64,732.69 172.68,732.72 176.73,732.74 180.77,732.77 184.81,732.80 188.85,732.84 192.89,732.87 196.93,732.91 200.98,732.95 205.02,733.00 209.06,733.04 213.10,733.09 217.14,733.14 221.18,733.19 225.23,733.24 229.27,733.30 233.31,733.36 237.35,733.42 241.39,733.49 245.43,733.55 249.48,733.62 253.52,733.69 257.56,733.77 261.60,733.85 265.64,733.93 269.69,734.01 273.73,734.09 277.77,734.18 281.81,734.27 285.85,734.36 289.89,734.46 293.94,734.56 297.98,734.66 302.02,734.76 306.06,734.87 310.10,734.98 314.14,735.09 318.19,735.20 322.23,735.32 326.27,735.44 330.31,735.56 334.35,735.69 338.39,735.82 342.44,735.95 346.48,736.09 350.52,736.23 354.56,736.37 358.60,736.51 362.64,736.66 366.69,736.81 370.73,736.96 374.77,737.12 378.81,737.28 382.85,737.44 386.89,737.61 390.94,737.78 394.98,737.95 399.02,738.13 403.06,738.31 407.10,738.49 411.14,738.68 415.19,738.87 419.23,739.06 423.27,739.26 427.31,739.46 431.35,739.66 435.40,739.87 439.44,740.08 443.48,740.29 447.52,740.51 451.56,740.73 455.60,740.95 459.65,741.18 463.69,741.41 467.73,741.64 471.77,741.88 475.81,742.12 479.85,742.37 483.90,742.62 487.94,742.87 491.98,743.13 496.02,743.39 500.06,743.65 504.10,743.92 508.15,744.19 512.19,744.47 516.23,744.75 520.27,745.03 524.31,745.32 528.35,745.61 532.40,745.90 536.44,746.20 540.48,746.51 544.52,746.81 548.56,747.12 552.60,747.44 556.65,747.76 560.69,748.08 564.73,748.41 568.77,748.74 572.81,749.08 576.86,749.42 580.90,749.76 584.94,750.11 588.98,750.46 593.02,750.82 597.06,751.18 601.11,751.55 605.15,751.93 609.19,752.31 613.23,752.70 617.27,753.09 621.31,753.49 625.36,753.90 629.40,754.32 633.44,754.74 637.48,755.17 641.52,755.61 645.56,756.06 649.61,756.52 653.65,756.98 657.69,757.46 661.73,757.94 665.77,758.44 669.81,758.94 673.86,759.45 677.90,759.98 681.94,760.51 685.98,761.06 690.02,761.62 694.06,762.19 698.11,762.77 702.15,763.36 706.19,763.96 710.23,764.58 714.27,765.21 718.31,765.86 722.36,766.51 726.40,767.18 730.44,767.87 734.48,768.56 738.52,769.28 742.57,770.00 746.61,770.74 750.65,771.50 754.69,772.27 758.73,773.06 762.77,773.86 766.82,774.68 770.86,775.52 774.90,776.37 778.94,777.24 782.98,778.13 787.02,779.03 791.07,779.95 795.11,780.89 799.15,781.85 803.19,782.82 807.23,783.81 811.27,784.82 815.32,785.84 819.36,786.88 823.40,787.93 827.44,789.00 831.48,790.09 835.52,791.19 839.57,792.30 843.61,793.43 847.65,794.57 851.69,795.72 855.73,796.89 859.77,798.07 863.82,799.27 867.86,800.48 871.90,801.69 875.94,802.93 879.98,804.17 884.02,805.42 888.07,806.69 892.11,807.96 896.15,809.25" fill="none" stroke="#000" stroke-width="2.7" stroke-linejoin="round"/>
<polyline points="91.85,768.48 95.89,768.50 99.93,768.51 103.98,768.52 108.02,768.54 112.06,768.56 116.10,768.58 120.14,768.60 124.18,768.63 128.23,768.65 132.27,768.68 136.31,768.70 140.35,768.73 144.39,768.76 148.43,768.79 152.48,768.82 156.52,768.86 160.56,768.89 164.60,768.93 168.64,768.96 172.68,769.00 176.73,769.04 180.77,769.08 184.81,769.12 188.85,769.16 192.89,769.21 196.93,769.25 200.98,769.30 205.02,769.34 209.06,769.39 213.10,769.43 217.14,769.48 221.18,769.53 225.23,769.58 229.27,769.63 233.31,769.68 237.35,769.73 241.39,769.78 245.43,769.84 249.48,769.89 253.52,769.94 257.56,770.00 261.60,770.05 265.64,770.11 269.69,770.16 273.73,770.22 277.77,770.27 281.81,770.33 285.85,770.39 289.89,770.44 293.94,770.50 297.98,770.56 302.02,770.62 306.06,770.67 310.10,770.73 314.14,770.79 318.19,770.85 322.23,770.91 326.27,770.96 330.31,771.02 334.35,771.08 338.39,771.14 342.44,771.20 346.48,771.25 350.52,771.31 354.56,771.37 358.60,771.42 362.64,771.48 366.69,771.54 370.73,771.59 374.77,771.65 378.81,771.71 382.85,771.77 386.89,771.82 390.94,771.88 394.98,771.94 399.02,772.01 403.06,772.07 407.10,772.13 411.14,772.20 415.19,772.27 419.23,772.34 423.27,772.41 427.31,772.49 431.35,772.57 435.40,772.65 439.44,772.73 443.48,772.82 447.52,772.91 451.56,773.00 455.60,773.10 459.65,773.20 463.69,773.31 467.73,773.42 471.77,773.53 475.81,773.65 479.85,773.78 483.90,773.91 487.94,774.04 491.98,774.18 496.02,774.32 500.06,774.48 504.10,774.63 508.15,774.80 512.19,774.96 516.23,775.14 520.27,775.32 524.31,775.51 528.35,775.71 532.40,775.91 536.44,776.12 540.48,776.34 544.52,776.56 548.56,776.79 552.60,777.04 556.65,777.28 560.69,777.54 564.73,777.81 568.77,778.08 572.81,778.37 576.86,778.66 580.90,778.96 584.94,779.27 588.98,779.59 593.02,779.92 597.06,780.26 601.11,780.61 605.15,780.97 609.19,781.34 613.23,781.72 617.27,782.11 621.31,782.51 625.36,782.92 629.40,783.35 633.44,783.78 637.48,784.22 641.52,784.68 645.56,785.14 649.61,785.62 653.65,786.11 657.69,786.61 661.73,787.12 665.77,787.65 669.81,788.18 673.86,788.73 677.90,789.29 681.94,789.86 685.98,790.45 690.02,791.04 694.06,791.65 698.11,792.28 702.15,792.91 706.19,793.56 710.23,794.22 714.27,794.90 718.31,795.59 722.36,796.29 726.40,797.01 730.44,797.74 734.48,798.48 738.52,799.24 742.57,800.01 746.61,800.80 750.65,801.60 754.69,802.41 758.73,803.24 762.77,804.09 766.82,804.95 770.86,805.82 774.90,806.71 778.94,807.62 782.98,808.54 787.02,809.47 791.07,810.42 795.11,811.39 799.15,812.38 803.19,813.37 807.23,814.39 811.27,815.42 815.32,816.47 819.36,817.53 823.40,818.61 827.44,819.70 831.48,820.82 835.52,821.94 839.57,823.09 843.61,824.25 847.65,825.42 851.69,826.61 855.73,827.82 859.77,829.05 863.82,830.29 867.86,831.55 871.90,832.82 875.94,834.11 879.98,835.42 884.02,836.75 888.07,838.09 892.11,839.45 896.15,840.82" fill="none" stroke="#000" stroke-width="2.7" stroke-linejoin="round"/>
<polyline points="91.85,804.53 95.89,804.52 99.93,804.51 103.98,804.50 108.02,804.50 112.06,804.50 116.10,804.50 120.14,804.50 124.18,804.51 128.23,804.52 132.27,804.53 136.31,804.55 140.35,804.56 144.39,804.58 148.43,804.60 152.48,804.63 156.52,804.65 160.56,804.68 164.60,804.71 168.64,804.74 172.68,804.77 176.73,804.81 180.77,804.85 184.81,804.89 188.85,804.93 192.89,804.97 196.93,805.01 200.98,805.06 205.02,805.11 209.06,805.16 213.10,805.21 217.14,805.26 221.18,805.31 225.23,805.37 229.27,805.42 233.31,805.48 237.35,805.54 241.39,805.60 245.43,805.66 249.48,805.72 253.52,805.78 257.56,805.84 261.60,805.90 265.64,805.97 269.69,806.03 273.73,806.10 277.77,806.16 281.81,806.23 285.85,806.30 289.89,806.36 293.94,806.43 297.98,806.50 302.02,806.57 306.06,806.64 310.10,806.70 314.14,806.77 318.19,806.84 322.23,806.91 326.27,806.98 330.31,807.05 334.35,807.11 338.39,807.18 342.44,807.25 346.48,807.32 350.52,807.38 354.56,807.45 358.60,807.52 362.64,807.58 366.69,807.65 370.73,807.71 374.77,807.77 378.81,807.84 382.85,807.90 386.89,807.97 390.94,808.04 394.98,808.10 399.02,808.17 403.06,808.24 407.10,808.31 411.14,808.39 415.19,808.46 419.23,808.54 423.27,808.62 427.31,808.70 431.35,808.79 435.40,808.87 439.44,808.96 443.48,809.06 447.52,809.16 451.56,809.26 455.60,809.37 459.65,809.48 463.69,809.59 467.73,809.71 471.77,809.83 475.81,809.96 479.85,810.10 483.90,810.24 487.94,810.38 491.98,810.53 496.02,810.69 500.06,810.85 504.10,811.02 508.15,811.20 512.19,811.38 516.23,811.57 520.27,811.77 524.31,811.97 528.35,812.18 532.40,812.40 536.44,812.63 540.48,812.87 544.52,813.11 548.56,813.37 552.60,813.63 556.65,813.90 560.69,814.18 564.73,814.47 568.77,814.77 572.81,815.08 576.86,815.40 580.90,815.73 584.94,816.07 588.98,816.42 593.02,816.78 597.06,817.15 601.11,817.53 605.15,817.92 609.19,818.32 613.23,818.73 617.27,819.15 621.31,819.58 625.36,820.02 629.40,820.47 633.44,820.93 637.48,821.41 641.52,821.89 645.56,822.38 649.61,822.88 653.65,823.40 657.69,823.92 661.73,824.46 665.77,825.00 669.81,825.55 673.86,826.12 677.90,826.70 681.94,827.28 685.98,827.88 690.02,828.48 694.06,829.10 698.11,829.73 702.15,830.37 706.19,831.02 710.23,831.67 714.27,832.34 718.31,833.02 722.36,833.71 726.40,834.41 730.44,835.13 734.48,835.85 738.52,836.58 742.57,837.32 746.61,838.08 750.65,838.84 754.69,839.61 758.73,840.40 762.77,841.20 766.82,842.00 770.86,842.82 774.90,843.65 778.94,844.48 782.98,845.33 787.02,846.19 791.07,847.06 795.11,847.94 799.15,848.84 803.19,849.74 807.23,850.65 811.27,851.57 815.32,852.50 819.36,853.44 823.40,854.39 827.44,855.34 831.48,856.31 835.52,857.28 839.57,858.26 843.61,859.25 847.65,860.25 851.69,861.25 855.73,862.26 859.77,863.28 863.82,864.31 867.86,865.34 871.90,866.38 875.94,867.42 879.98,868.47 884.02,869.52 888.07,870.58 892.11,871.65 896.15,872.72" fill="none" stroke="#000" stroke-width="2.7" stroke-linejoin="round"/>
<rect x="147.5" y="88.0" width="27.0" height="22" fill="#fff"/>
<rect x="147.5" y="111.5" width="27.0" height="22" fill="#fff"/>
<rect x="147.5" y="148.5" width="27.0" height="22" fill="#fff"/>
<rect x="147.5" y="182.1" width="27.0" height="22" fill="#fff"/>
<rect x="147.5" y="223.1" width="28.5" height="22" fill="#fff"/>
<rect x="147.2" y="266.9" width="27.8" height="22" fill="#fff"/>
<rect x="147.2" y="318.1" width="27.8" height="22" fill="#fff"/>
<rect x="147.2" y="358.1" width="25.3" height="22" fill="#fff"/>
<rect x="147.2" y="400.4" width="25.3" height="22" fill="#fff"/>
<rect x="147.2" y="446.1" width="25.8" height="22" fill="#fff"/>
<rect x="147.2" y="478.0" width="18.3" height="22" fill="#fff"/>
<rect x="147.2" y="523.5" width="18.3" height="22" fill="#fff"/>
<rect x="147.2" y="558.5" width="19.1" height="22" fill="#fff"/>
<rect x="147.2" y="610.6" width="18.3" height="22" fill="#fff"/>
<rect x="147.5" y="680.2" width="16.0" height="22" fill="#fff"/>
<rect x="147.5" y="720.4" width="16.0" height="22" fill="#fff"/>
<rect x="147.5" y="755.7" width="16.0" height="22" fill="#fff"/>
<rect x="147.5" y="792.0" width="16.0" height="22" fill="#fff"/>
<path d="M0.385 0 L0.385 -0.716 L0.262 -0.716 C0.225 -0.635 0.14 -0.565 0.045 -0.525 L0.045 -0.395 C0.115 -0.42 0.185 -0.46 0.235 -0.505 L0.235 0 Z" transform="translate(150.29,105.40) scale(18)" fill="#000" stroke="#000" stroke-width="0.0194"/>
<text x="160.30" y="105.40" font-size="18">9</text>
<path d="M0.385 0 L0.385 -0.716 L0.262 -0.716 C0.225 -0.635 0.14 -0.565 0.045 -0.525 L0.045 -0.395 C0.115 -0.42 0.185 -0.46 0.235 -0.505 L0.235 0 Z" transform="translate(150.29,128.90) scale(18)" fill="#000" stroke="#000" stroke-width="0.0194"/>
<text x="160.30" y="128.90" font-size="18">8</text>
<path d="M0.385 0 L0.385 -0.716 L0.262 -0.716 C0.225 -0.635 0.14 -0.565 0.045 -0.525 L0.045 -0.395 C0.115 -0.42 0.185 -0.46 0.235 -0.505 L0.235 0 Z" transform="translate(150.29,165.90) scale(18)" fill="#000" stroke="#000" stroke-width="0.0194"/>
<text x="160.30" y="165.90" font-size="18">7</text>
<path d="M0.385 0 L0.385 -0.716 L0.262 -0.716 C0.225 -0.635 0.14 -0.565 0.045 -0.525 L0.045 -0.395 C0.115 -0.42 0.185 -0.46 0.235 -0.505 L0.235 0 Z" transform="translate(150.29,199.50) scale(18)" fill="#000" stroke="#000" stroke-width="0.0194"/>
<text x="160.30" y="199.50" font-size="18">6</text>
<path d="M0.385 0 L0.385 -0.716 L0.262 -0.716 C0.225 -0.635 0.14 -0.565 0.045 -0.525 L0.045 -0.395 C0.115 -0.42 0.185 -0.46 0.235 -0.505 L0.235 0 Z" transform="translate(150.29,240.50) scale(18)" fill="#000" stroke="#000" stroke-width="0.0194"/>
<text x="160.30" y="240.50" font-size="18">5</text>
<path d="M0.385 0 L0.385 -0.716 L0.262 -0.716 C0.225 -0.635 0.14 -0.565 0.045 -0.525 L0.045 -0.395 C0.115 -0.42 0.185 -0.46 0.235 -0.505 L0.235 0 Z" transform="translate(150.29,284.30) scale(18)" fill="#000" stroke="#000" stroke-width="0.0194"/>
<text x="160.30" y="284.30" font-size="18">4</text>
<path d="M0.385 0 L0.385 -0.716 L0.262 -0.716 C0.225 -0.635 0.14 -0.565 0.045 -0.525 L0.045 -0.395 C0.115 -0.42 0.185 -0.46 0.235 -0.505 L0.235 0 Z" transform="translate(150.29,335.50) scale(18)" fill="#000" stroke="#000" stroke-width="0.0194"/>
<text x="160.30" y="335.50" font-size="18">3</text>
<path d="M0.385 0 L0.385 -0.716 L0.262 -0.716 C0.225 -0.635 0.14 -0.565 0.045 -0.525 L0.045 -0.395 C0.115 -0.42 0.185 -0.46 0.235 -0.505 L0.235 0 Z" transform="translate(150.29,375.50) scale(18)" fill="#000" stroke="#000" stroke-width="0.0194"/>
<text x="160.30" y="375.50" font-size="18">2</text>
<path d="M0.385 0 L0.385 -0.716 L0.262 -0.716 C0.225 -0.635 0.14 -0.565 0.045 -0.525 L0.045 -0.395 C0.115 -0.42 0.185 -0.46 0.235 -0.505 L0.235 0 Z" transform="translate(150.29,417.80) scale(18)" fill="#000" stroke="#000" stroke-width="0.0194"/>
<path d="M0.385 0 L0.385 -0.716 L0.262 -0.716 C0.225 -0.635 0.14 -0.565 0.045 -0.525 L0.045 -0.395 C0.115 -0.42 0.185 -0.46 0.235 -0.505 L0.235 0 Z" transform="translate(160.30,417.80) scale(18)" fill="#000" stroke="#000" stroke-width="0.0194"/>
<path d="M0.385 0 L0.385 -0.716 L0.262 -0.716 C0.225 -0.635 0.14 -0.565 0.045 -0.525 L0.045 -0.395 C0.115 -0.42 0.185 -0.46 0.235 -0.505 L0.235 0 Z" transform="translate(150.29,463.50) scale(18)" fill="#000" stroke="#000" stroke-width="0.0194"/>
<text x="160.30" y="463.50" font-size="18">0</text>
<text x="150.90" y="495.40" font-size="18">9</text>
<text x="150.90" y="540.90" font-size="18">8</text>
<text x="150.90" y="575.90" font-size="18">7</text>
<text x="150.90" y="628.00" font-size="18">6</text>
<text x="150.90" y="697.60" font-size="18">5</text>
<text x="150.90" y="737.80" font-size="18">4</text>
<text x="150.90" y="773.10" font-size="18">3</text>
<text x="150.90" y="809.40" font-size="18">2</text>
<text x="68.32" y="837.33" font-size="18.6">2</text>
<text x="78.96" y="837.33" font-size="18.6">0</text>
<text x="68.32" y="763.36" font-size="18.6">4</text>
<text x="78.96" y="763.36" font-size="18.6">0</text>
<text x="68.32" y="691.89" font-size="18.6">6</text>
<text x="78.96" y="691.89" font-size="18.6">0</text>
<text x="68.32" y="620.42" font-size="18.6">8</text>
<text x="78.96" y="620.42" font-size="18.6">0</text>
<path d="M0.385 0 L0.385 -0.716 L0.262 -0.716 C0.225 -0.635 0.14 -0.565 0.045 -0.525 L0.045 -0.395 C0.115 -0.42 0.185 -0.46 0.235 -0.505 L0.235 0 Z" transform="translate(57.68,548.95) scale(18.6)" fill="#000" stroke="#000" stroke-width="0.0188"/>
<text x="68.32" y="548.95" font-size="18.6">0</text>
<text x="78.96" y="548.95" font-size="18.6">0</text>
<path d="M0.385 0 L0.385 -0.716 L0.262 -0.716 C0.225 -0.635 0.14 -0.565 0.045 -0.525 L0.045 -0.395 C0.115 -0.42 0.185 -0.46 0.235 -0.505 L0.235 0 Z" transform="translate(57.68,477.48) scale(18.6)" fill="#000" stroke="#000" stroke-width="0.0188"/>
<text x="68.32" y="477.48" font-size="18.6">2</text>
<text x="78.96" y="477.48" font-size="18.6">0</text>
<path d="M0.385 0 L0.385 -0.716 L0.262 -0.716 C0.225 -0.635 0.14 -0.565 0.045 -0.525 L0.045 -0.395 C0.115 -0.42 0.185 -0.46 0.235 -0.505 L0.235 0 Z" transform="translate(57.68,406.01) scale(18.6)" fill="#000" stroke="#000" stroke-width="0.0188"/>
<text x="68.32" y="406.01" font-size="18.6">4</text>
<text x="78.96" y="406.01" font-size="18.6">0</text>
<path d="M0.385 0 L0.385 -0.716 L0.262 -0.716 C0.225 -0.635 0.14 -0.565 0.045 -0.525 L0.045 -0.395 C0.115 -0.42 0.185 -0.46 0.235 -0.505 L0.235 0 Z" transform="translate(57.68,334.54) scale(18.6)" fill="#000" stroke="#000" stroke-width="0.0188"/>
<text x="68.32" y="334.54" font-size="18.6">6</text>
<text x="78.96" y="334.54" font-size="18.6">0</text>
<path d="M0.385 0 L0.385 -0.716 L0.262 -0.716 C0.225 -0.635 0.14 -0.565 0.045 -0.525 L0.045 -0.395 C0.115 -0.42 0.185 -0.46 0.235 -0.505 L0.235 0 Z" transform="translate(57.68,263.07) scale(18.6)" fill="#000" stroke="#000" stroke-width="0.0188"/>
<text x="68.32" y="263.07" font-size="18.6">8</text>
<text x="78.96" y="263.07" font-size="18.6">0</text>
<text x="57.68" y="191.60" font-size="18.6">2</text>
<text x="68.32" y="191.60" font-size="18.6">0</text>
<text x="78.96" y="191.60" font-size="18.6">0</text>
<text x="57.68" y="120.13" font-size="18.6">2</text>
<text x="68.32" y="120.13" font-size="18.6">2</text>
<text x="78.96" y="120.13" font-size="18.6">0</text>
<text x="54.00" y="44.00" font-size="18.5" textLength="32" lengthAdjust="spacingAndGlyphs">H,м</text>
<text x="83.85" y="917.80" font-size="18">0</text>
<path d="M0.385 0 L0.385 -0.716 L0.262 -0.716 C0.225 -0.635 0.14 -0.565 0.045 -0.525 L0.045 -0.395 C0.115 -0.42 0.185 -0.46 0.235 -0.505 L0.235 0 Z" transform="translate(140.47,917.80) scale(18)" fill="#000" stroke="#000" stroke-width="0.0194"/>
<text x="194.09" y="917.80" font-size="18">2</text>
<text x="247.71" y="917.80" font-size="18">3</text>
<text x="301.33" y="917.80" font-size="18">4</text>
<text x="354.95" y="917.80" font-size="18">5</text>
<text x="408.57" y="917.80" font-size="18">6</text>
<text x="462.19" y="917.80" font-size="18">7</text>
<text x="515.81" y="917.80" font-size="18">8</text>
<text x="569.43" y="917.80" font-size="18">9</text>
<path d="M0.385 0 L0.385 -0.716 L0.262 -0.716 C0.225 -0.635 0.14 -0.565 0.045 -0.525 L0.045 -0.395 C0.115 -0.42 0.185 -0.46 0.235 -0.505 L0.235 0 Z" transform="translate(618.04,917.80) scale(18)" fill="#000" stroke="#000" stroke-width="0.0194"/>
<text x="628.05" y="917.80" font-size="18">0</text>
<path d="M0.385 0 L0.385 -0.716 L0.262 -0.716 C0.225 -0.635 0.14 -0.565 0.045 -0.525 L0.045 -0.395 C0.115 -0.42 0.185 -0.46 0.235 -0.505 L0.235 0 Z" transform="translate(671.66,917.80) scale(18)" fill="#000" stroke="#000" stroke-width="0.0194"/>
<path d="M0.385 0 L0.385 -0.716 L0.262 -0.716 C0.225 -0.635 0.14 -0.565 0.045 -0.525 L0.045 -0.395 C0.115 -0.42 0.185 -0.46 0.235 -0.505 L0.235 0 Z" transform="translate(681.67,917.80) scale(18)" fill="#000" stroke="#000" stroke-width="0.0194"/>
<path d="M0.385 0 L0.385 -0.716 L0.262 -0.716 C0.225 -0.635 0.14 -0.565 0.045 -0.525 L0.045 -0.395 C0.115 -0.42 0.185 -0.46 0.235 -0.505 L0.235 0 Z" transform="translate(725.28,917.80) scale(18)" fill="#000" stroke="#000" stroke-width="0.0194"/>
<text x="735.29" y="917.80" font-size="18">2</text>
<path d="M0.385 0 L0.385 -0.716 L0.262 -0.716 C0.225 -0.635 0.14 -0.565 0.045 -0.525 L0.045 -0.395 C0.115 -0.42 0.185 -0.46 0.235 -0.505 L0.235 0 Z" transform="translate(778.90,917.80) scale(18)" fill="#000" stroke="#000" stroke-width="0.0194"/>
<text x="788.91" y="917.80" font-size="18">3</text>
<path d="M0.385 0 L0.385 -0.716 L0.262 -0.716 C0.225 -0.635 0.14 -0.565 0.045 -0.525 L0.045 -0.395 C0.115 -0.42 0.185 -0.46 0.235 -0.505 L0.235 0 Z" transform="translate(832.52,917.80) scale(18)" fill="#000" stroke="#000" stroke-width="0.0194"/>
<text x="842.53" y="917.80" font-size="18">4</text>
<path d="M0.385 0 L0.385 -0.716 L0.262 -0.716 C0.225 -0.635 0.14 -0.565 0.045 -0.525 L0.045 -0.395 C0.115 -0.42 0.185 -0.46 0.235 -0.505 L0.235 0 Z" transform="translate(888.14,917.80) scale(18)" fill="#000" stroke="#000" stroke-width="0.0194"/>
<text x="898.15" y="917.80" font-size="18">5</text>
<text x="822.50" y="937.00" font-size="18.5" textLength="83" lengthAdjust="spacingAndGlyphs">Q, м³/час</text>
<path d="M102.57 968.30V1236.10M113.30 968.30V1236.10M124.02 968.30V1236.10M134.75 968.30V1236.10M156.19 968.30V1236.10M166.92 968.30V1236.10M177.64 968.30V1236.10M188.37 968.30V1236.10M209.81 968.30V1236.10M220.54 968.30V1236.10M231.26 968.30V1236.10M241.99 968.30V1236.10M263.43 968.30V1236.10M274.16 968.30V1236.10M284.88 968.30V1236.10M295.61 968.30V1236.10M317.05 968.30V1236.10M327.78 968.30V1236.10M338.50 968.30V1236.10M349.23 968.30V1236.10M370.67 968.30V1236.10M381.40 968.30V1236.10M392.12 968.30V1236.10M402.85 968.30V1236.10M424.29 968.30V1236.10M435.02 968.30V1236.10M445.74 968.30V1236.10M456.47 968.30V1236.10M477.91 968.30V1236.10M488.64 968.30V1236.10M499.36 968.30V1236.10M510.09 968.30V1236.10M531.53 968.30V1236.10M542.26 968.30V1236.10M552.98 968.30V1236.10M563.71 968.30V1236.10M585.15 968.30V1236.10M595.88 968.30V1236.10M606.60 968.30V1236.10M617.33 968.30V1236.10M638.77 968.30V1236.10M649.50 968.30V1236.10M660.22 968.30V1236.10M670.95 968.30V1236.10M692.39 968.30V1236.10M703.12 968.30V1236.10M713.84 968.30V1236.10M724.57 968.30V1236.10M746.01 968.30V1236.10M756.74 968.30V1236.10M767.46 968.30V1236.10M778.19 968.30V1236.10M799.63 968.30V1236.10M810.36 968.30V1236.10M821.08 968.30V1236.10M831.81 968.30V1236.10M853.25 968.30V1236.10M863.98 968.30V1236.10M874.70 968.30V1236.10M885.43 968.30V1236.10" stroke="#cfcfcf" stroke-width="2.2" fill="none"/>
<path d="M145.47 968.30V1236.10M199.09 968.30V1236.10M252.71 968.30V1236.10M306.33 968.30V1236.10M359.95 968.30V1236.10M413.57 968.30V1236.10M467.19 968.30V1236.10M520.81 968.30V1236.10M574.43 968.30V1236.10M628.05 968.30V1236.10M681.67 968.30V1236.10M735.29 968.30V1236.10M788.91 968.30V1236.10M842.53 968.30V1236.10" stroke="#333333" stroke-width="2.0" fill="none"/>
<path d="M91.85 1202.62H896.15M91.85 1169.15H896.15M91.85 1135.67H896.15M91.85 1102.20H896.15M91.85 1068.72H896.15M91.85 1035.25H896.15M91.85 1001.77H896.15" stroke="#2a2a2a" stroke-width="2.0" fill="none"/>
<rect x="91.85" y="968.30" width="804.30" height="267.80" fill="none" stroke="#303030" stroke-width="2.2"/>
<rect x="587" y="971" width="17.5" height="18.5" fill="#fff"/>
<rect x="599" y="1047.5" width="25" height="19.5" fill="#fff"/>
<polyline points="91.85,1227.26 95.89,1224.74 99.93,1222.22 103.98,1219.70 108.02,1217.17 112.06,1214.64 116.10,1212.11 120.14,1209.58 124.18,1207.04 128.23,1204.50 132.27,1201.95 136.31,1199.41 140.35,1196.85 144.39,1194.29 148.43,1191.73 152.48,1189.16 156.52,1186.59 160.56,1184.01 164.60,1181.43 168.64,1178.84 172.68,1176.24 176.73,1173.64 180.77,1171.03 184.81,1168.41 188.85,1165.79 192.89,1163.16 196.93,1160.52 200.98,1157.88 205.02,1155.22 209.06,1152.56 213.10,1149.90 217.14,1147.23 221.18,1144.56 225.23,1141.89 229.27,1139.22 233.31,1136.55 237.35,1133.88 241.39,1131.22 245.43,1128.56 249.48,1125.90 253.52,1123.26 257.56,1120.62 261.60,1117.99 265.64,1115.37 269.69,1112.76 273.73,1110.17 277.77,1107.59 281.81,1105.02 285.85,1102.47 289.89,1099.94 293.94,1097.43 297.98,1094.94 302.02,1092.47 306.06,1090.02 310.10,1087.59 314.14,1085.19 318.19,1082.82 322.23,1080.46 326.27,1078.14 330.31,1075.83 334.35,1073.56 338.39,1071.30 342.44,1069.08 346.48,1066.88 350.52,1064.70 354.56,1062.56 358.60,1060.43 362.64,1058.34 366.69,1056.28 370.73,1054.24 374.77,1052.23 378.81,1050.24 382.85,1048.29 386.89,1046.37 390.94,1044.47 394.98,1042.60 399.02,1040.77 403.06,1038.96 407.10,1037.18 411.14,1035.43 415.19,1033.72 419.23,1032.03 423.27,1030.38 427.31,1028.76 431.35,1027.17 435.40,1025.61 439.44,1024.08 443.48,1022.59 447.52,1021.12 451.56,1019.70 455.60,1018.30 459.65,1016.94 463.69,1015.61 467.73,1014.32 471.77,1013.06 475.81,1011.83 479.85,1010.64 483.90,1009.49 487.94,1008.37 491.98,1007.29 496.02,1006.24 500.06,1005.23 504.10,1004.26 508.15,1003.32 512.19,1002.42 516.23,1001.55 520.27,1000.73 524.31,999.94 528.35,999.19 532.40,998.48 536.44,997.80 540.48,997.16 544.52,996.55 548.56,995.98 552.60,995.44 556.65,994.93 560.69,994.46 564.73,994.02 568.77,993.61 572.81,993.23 576.86,992.87 580.90,992.55 584.94,992.26 588.98,991.99 593.02,991.75 597.06,991.54 601.11,991.36 605.15,991.19 609.19,991.06 613.23,990.95 617.27,990.86 621.31,990.79 625.36,990.75 629.40,990.72 633.44,990.72 637.48,990.74 641.52,990.78 645.56,990.84 649.61,990.91 653.65,991.00 657.69,991.11 661.73,991.24 665.77,991.38 669.81,991.54 673.86,991.71 677.90,991.90 681.94,992.10 685.98,992.31 690.02,992.53 694.06,992.76 698.11,993.01 702.15,993.26 706.19,993.53 710.23,993.80 714.27,994.08 718.31,994.37 722.36,994.67 726.40,994.97 730.44,995.28 734.48,995.59 738.52,995.90 742.57,996.23 746.61,996.55 750.65,996.89 754.69,997.23 758.73,997.58 762.77,997.94 766.82,998.32 770.86,998.70 774.90,999.10 778.94,999.51 782.98,999.94 787.02,1000.38 791.07,1000.85 795.11,1001.33 799.15,1001.83 803.19,1002.35 807.23,1002.89 811.27,1003.45 815.32,1004.04 819.36,1004.65 823.40,1005.29 827.44,1005.95 831.48,1006.64 835.52,1007.36 839.57,1008.11 843.61,1008.89 847.65,1009.70 851.69,1010.54 855.73,1011.41 859.77,1012.30 863.82,1013.22 867.86,1014.15 871.90,1015.11 875.94,1016.08 879.98,1017.07 884.02,1018.07 888.07,1019.08 892.11,1020.10 896.15,1021.12" fill="none" stroke="#000" stroke-width="2.7" stroke-linejoin="round"/>
<polyline points="91.85,1109.89 95.89,1109.87 99.93,1109.84 103.98,1109.81 108.02,1109.78 112.06,1109.73 116.10,1109.69 120.14,1109.63 124.18,1109.57 128.23,1109.51 132.27,1109.44 136.31,1109.36 140.35,1109.28 144.39,1109.19 148.43,1109.10 152.48,1109.01 156.52,1108.91 160.56,1108.80 164.60,1108.69 168.64,1108.57 172.68,1108.45 176.73,1108.33 180.77,1108.20 184.81,1108.06 188.85,1107.93 192.89,1107.78 196.93,1107.63 200.98,1107.48 205.02,1107.33 209.06,1107.17 213.10,1107.00 217.14,1106.83 221.18,1106.66 225.23,1106.49 229.27,1106.31 233.31,1106.12 237.35,1105.94 241.39,1105.75 245.43,1105.55 249.48,1105.35 253.52,1105.15 257.56,1104.95 261.60,1104.74 265.64,1104.53 269.69,1104.32 273.73,1104.10 277.77,1103.88 281.81,1103.66 285.85,1103.43 289.89,1103.20 293.94,1102.97 297.98,1102.74 302.02,1102.50 306.06,1102.26 310.10,1102.02 314.14,1101.77 318.19,1101.53 322.23,1101.27 326.27,1101.02 330.31,1100.75 334.35,1100.49 338.39,1100.21 342.44,1099.93 346.48,1099.64 350.52,1099.35 354.56,1099.04 358.60,1098.73 362.64,1098.41 366.69,1098.07 370.73,1097.73 374.77,1097.37 378.81,1097.01 382.85,1096.63 386.89,1096.23 390.94,1095.83 394.98,1095.41 399.02,1094.97 403.06,1094.52 407.10,1094.06 411.14,1093.58 415.19,1093.08 419.23,1092.56 423.27,1092.03 427.31,1091.48 431.35,1090.90 435.40,1090.31 439.44,1089.70 443.48,1089.07 447.52,1088.42 451.56,1087.75 455.60,1087.05 459.65,1086.33 463.69,1085.59 467.73,1084.82 471.77,1084.03 475.81,1083.21 479.85,1082.37 483.90,1081.50 487.94,1080.61 491.98,1079.68 496.02,1078.73 500.06,1077.76 504.10,1076.75 508.15,1075.71 512.19,1074.64 516.23,1073.55 520.27,1072.42 524.31,1071.26 528.35,1070.07 532.40,1068.85 536.44,1067.60 540.48,1066.32 544.52,1065.02 548.56,1063.69 552.60,1062.34 556.65,1060.96 560.69,1059.57 564.73,1058.15 568.77,1056.71 572.81,1055.26 576.86,1053.79 580.90,1052.30 584.94,1050.81 588.98,1049.30 593.02,1047.79 597.06,1046.29 601.11,1044.78 605.15,1043.28 609.19,1041.79 613.23,1040.32 617.27,1038.87 621.31,1037.43 625.36,1036.02 629.40,1034.64 633.44,1033.29 637.48,1031.97 641.52,1030.68 645.56,1029.41 649.61,1028.18 653.65,1026.97 657.69,1025.79 661.73,1024.63 665.77,1023.50 669.81,1022.40 673.86,1021.32 677.90,1020.26 681.94,1019.23 685.98,1018.22 690.02,1017.23 694.06,1016.26 698.11,1015.31 702.15,1014.38 706.19,1013.47 710.23,1012.58 714.27,1011.71 718.31,1010.85 722.36,1010.01 726.40,1009.19 730.44,1008.38 734.48,1007.58 738.52,1006.80 742.57,1006.04 746.61,1005.29 750.65,1004.55 754.69,1003.82 758.73,1003.11 762.77,1002.41 766.82,1001.73 770.86,1001.06 774.90,1000.40 778.94,999.75 782.98,999.12 787.02,998.50 791.07,997.89 795.11,997.30 799.15,996.71 803.19,996.14 807.23,995.59 811.27,995.04 815.32,994.51 819.36,993.99 823.40,993.48 827.44,992.98 831.48,992.49 835.52,992.02 839.57,991.56 843.61,991.11 847.65,990.67 851.69,990.24 855.73,989.82 859.77,989.41 863.82,989.02 867.86,988.63 871.90,988.26 875.94,987.90 879.98,987.55 884.02,987.20 888.07,986.87 892.11,986.55 896.15,986.24" fill="none" stroke="#000" stroke-width="2.7" stroke-linejoin="round"/>
<path d="M0.385 0 L0.385 -0.716 L0.262 -0.716 C0.225 -0.635 0.14 -0.565 0.045 -0.525 L0.045 -0.395 C0.115 -0.42 0.185 -0.46 0.235 -0.505 L0.235 0 Z" transform="translate(68.36,1209.22) scale(18.2)" fill="#000" stroke="#000" stroke-width="0.0192"/>
<text x="78.68" y="1209.22" font-size="18.2">0</text>
<text x="68.36" y="1175.75" font-size="18.2">2</text>
<text x="78.68" y="1175.75" font-size="18.2">0</text>
<text x="68.36" y="1142.27" font-size="18.2">3</text>
<text x="78.68" y="1142.27" font-size="18.2">0</text>
<text x="68.36" y="1108.80" font-size="18.2">4</text>
<text x="78.68" y="1108.80" font-size="18.2">0</text>
<text x="68.36" y="1075.32" font-size="18.2">5</text>
<text x="78.68" y="1075.32" font-size="18.2">0</text>
<text x="68.36" y="1041.85" font-size="18.2">6</text>
<text x="78.68" y="1041.85" font-size="18.2">0</text>
<text x="68.36" y="1008.37" font-size="18.2">7</text>
<text x="78.68" y="1008.37" font-size="18.2">0</text>
<text x="900.20" y="1238.80" font-size="18.2">0</text>
<text x="910.47" y="1238.80" font-size="18.2">,</text>
<text x="915.68" y="1238.80" font-size="18.2">2</text>
<text x="925.95" y="1238.80" font-size="18.2">0</text>
<text x="900.20" y="1208.83" font-size="18.2">0</text>
<text x="910.47" y="1208.83" font-size="18.2">,</text>
<text x="915.68" y="1208.83" font-size="18.2">2</text>
<text x="925.95" y="1208.83" font-size="18.2">5</text>
<text x="900.20" y="1175.35" font-size="18.2">0</text>
<text x="910.47" y="1175.35" font-size="18.2">,</text>
<text x="915.68" y="1175.35" font-size="18.2">3</text>
<text x="925.95" y="1175.35" font-size="18.2">0</text>
<text x="900.20" y="1141.88" font-size="18.2">0</text>
<text x="910.47" y="1141.88" font-size="18.2">,</text>
<text x="915.68" y="1141.88" font-size="18.2">3</text>
<text x="925.95" y="1141.88" font-size="18.2">5</text>
<text x="900.20" y="1108.40" font-size="18.2">0</text>
<text x="910.47" y="1108.40" font-size="18.2">,</text>
<text x="915.68" y="1108.40" font-size="18.2">4</text>
<text x="925.95" y="1108.40" font-size="18.2">0</text>
<text x="900.20" y="1074.92" font-size="18.2">0</text>
<text x="910.47" y="1074.92" font-size="18.2">,</text>
<text x="915.68" y="1074.92" font-size="18.2">4</text>
<text x="925.95" y="1074.92" font-size="18.2">5</text>
<text x="900.20" y="1041.45" font-size="18.2">0</text>
<text x="910.47" y="1041.45" font-size="18.2">,</text>
<text x="915.68" y="1041.45" font-size="18.2">5</text>
<text x="925.95" y="1041.45" font-size="18.2">0</text>
<text x="900.20" y="1007.97" font-size="18.2">0</text>
<text x="910.47" y="1007.97" font-size="18.2">,</text>
<text x="915.68" y="1007.97" font-size="18.2">5</text>
<text x="925.95" y="1007.97" font-size="18.2">5</text>
<text x="51.00" y="973.50" font-size="19">η</text>
<text x="67.50" y="973.50" font-size="19">,</text>
<text x="73.00" y="973.50" font-size="19.5">%</text>
<text transform="translate(900.57,971.50) scale(0.866,1)" font-size="16.93">P</text>
<text transform="translate(913.32,971.50) scale(1.299,1)" font-size="11.67">2</text>
<text x="928.60" y="971.50" font-size="17">,</text>
<text transform="translate(935.02,971.50) scale(1.247,1)" font-size="15.43">к</text>
<text transform="translate(946.45,971.50) scale(0.986,1)" font-size="21.29">В</text>
<text transform="translate(961.64,971.50) scale(1.615,1)" font-size="15.43">т</text>
<text x="590.50" y="982.50" font-size="17">η</text>
<text transform="translate(599.76,1063.20) scale(1.002,1)" font-size="17.81">P</text>
<text transform="translate(613.51,1063.20) scale(0.917,1)" font-size="13.82">2</text>
<text x="89.05" y="1260.30" font-size="18">0</text>
<path d="M0.385 0 L0.385 -0.716 L0.262 -0.716 C0.225 -0.635 0.14 -0.565 0.045 -0.525 L0.045 -0.395 C0.115 -0.42 0.185 -0.46 0.235 -0.505 L0.235 0 Z" transform="translate(140.47,1260.30) scale(18)" fill="#000" stroke="#000" stroke-width="0.0194"/>
<text x="194.09" y="1260.30" font-size="18">2</text>
<text x="247.71" y="1260.30" font-size="18">3</text>
<text x="301.33" y="1260.30" font-size="18">4</text>
<text x="354.95" y="1260.30" font-size="18">5</text>
<text x="408.57" y="1260.30" font-size="18">6</text>
<text x="462.19" y="1260.30" font-size="18">7</text>
<text x="515.81" y="1260.30" font-size="18">8</text>
<text x="569.43" y="1260.30" font-size="18">9</text>
<path d="M0.385 0 L0.385 -0.716 L0.262 -0.716 C0.225 -0.635 0.14 -0.565 0.045 -0.525 L0.045 -0.395 C0.115 -0.42 0.185 -0.46 0.235 -0.505 L0.235 0 Z" transform="translate(618.04,1260.30) scale(18)" fill="#000" stroke="#000" stroke-width="0.0194"/>
<text x="628.05" y="1260.30" font-size="18">0</text>
<path d="M0.385 0 L0.385 -0.716 L0.262 -0.716 C0.225 -0.635 0.14 -0.565 0.045 -0.525 L0.045 -0.395 C0.115 -0.42 0.185 -0.46 0.235 -0.505 L0.235 0 Z" transform="translate(671.66,1260.30) scale(18)" fill="#000" stroke="#000" stroke-width="0.0194"/>
<path d="M0.385 0 L0.385 -0.716 L0.262 -0.716 C0.225 -0.635 0.14 -0.565 0.045 -0.525 L0.045 -0.395 C0.115 -0.42 0.185 -0.46 0.235 -0.505 L0.235 0 Z" transform="translate(681.67,1260.30) scale(18)" fill="#000" stroke="#000" stroke-width="0.0194"/>
<path d="M0.385 0 L0.385 -0.716 L0.262 -0.716 C0.225 -0.635 0.14 -0.565 0.045 -0.525 L0.045 -0.395 C0.115 -0.42 0.185 -0.46 0.235 -0.505 L0.235 0 Z" transform="translate(725.28,1260.30) scale(18)" fill="#000" stroke="#000" stroke-width="0.0194"/>
<text x="735.29" y="1260.30" font-size="18">2</text>
<path d="M0.385 0 L0.385 -0.716 L0.262 -0.716 C0.225 -0.635 0.14 -0.565 0.045 -0.525 L0.045 -0.395 C0.115 -0.42 0.185 -0.46 0.235 -0.505 L0.235 0 Z" transform="translate(778.90,1260.30) scale(18)" fill="#000" stroke="#000" stroke-width="0.0194"/>
<text x="788.91" y="1260.30" font-size="18">3</text>
<path d="M0.385 0 L0.385 -0.716 L0.262 -0.716 C0.225 -0.635 0.14 -0.565 0.045 -0.525 L0.045 -0.395 C0.115 -0.42 0.185 -0.46 0.235 -0.505 L0.235 0 Z" transform="translate(832.52,1260.30) scale(18)" fill="#000" stroke="#000" stroke-width="0.0194"/>
<text x="842.53" y="1260.30" font-size="18">4</text>
<path d="M0.385 0 L0.385 -0.716 L0.262 -0.716 C0.225 -0.635 0.14 -0.565 0.045 -0.525 L0.045 -0.395 C0.115 -0.42 0.185 -0.46 0.235 -0.505 L0.235 0 Z" transform="translate(886.64,1260.30) scale(18)" fill="#000" stroke="#000" stroke-width="0.0194"/>
<text x="896.65" y="1260.30" font-size="18">5</text>
<text x="821.00" y="1277.80" font-size="18.5" textLength="83" lengthAdjust="spacingAndGlyphs">Q, м³/час</text>
</svg></body></html>
